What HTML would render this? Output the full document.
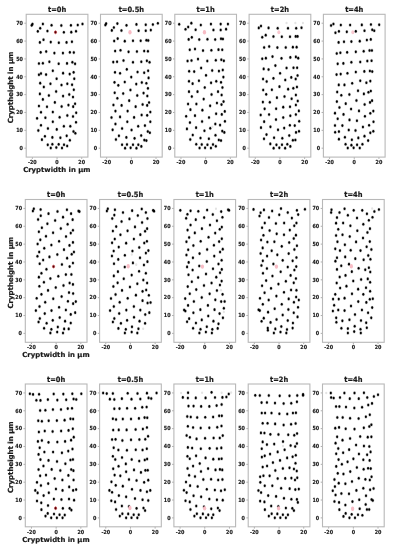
<!DOCTYPE html><html><head><meta charset="utf-8"><style>html,body{margin:0;padding:0;background:#fff;}svg{display:block;}text{font-family:"DejaVu Sans","Liberation Sans",sans-serif;font-weight:bold;fill:#1a1a1a;stroke:#1a1a1a;}.tk{font-size:4.85px;stroke-width:0.14px;}.tt{font-size:6.7px;stroke-width:0.2px;}.al{font-size:6.9px;stroke-width:0.2px;}</style></head><body>
<svg width="393" height="550" viewBox="0 0 393 550">
<rect width="393" height="550" fill="#fff"/>
<defs><g id="d"><ellipse rx="1.55" ry="1.9" fill="#000" fill-opacity="0.22"/><ellipse rx="1.0" ry="1.3" fill="#000"/></g></defs>
<text class="tt" transform="translate(57.05 11.80) scale(1 1.1)" text-anchor="middle">t=0h</text>
<line x1="24.40" y1="148.18" x2="26.20" y2="148.18" stroke="#8a8a8a" stroke-width="0.7"/>
<text class="tk" transform="translate(22.90 149.93) scale(1 1.15)" text-anchor="end">0</text>
<line x1="24.40" y1="130.33" x2="26.20" y2="130.33" stroke="#8a8a8a" stroke-width="0.7"/>
<text class="tk" transform="translate(22.90 132.08) scale(1 1.15)" text-anchor="end">10</text>
<line x1="24.40" y1="112.48" x2="26.20" y2="112.48" stroke="#8a8a8a" stroke-width="0.7"/>
<text class="tk" transform="translate(22.90 114.23) scale(1 1.15)" text-anchor="end">20</text>
<line x1="24.40" y1="94.63" x2="26.20" y2="94.63" stroke="#8a8a8a" stroke-width="0.7"/>
<text class="tk" transform="translate(22.90 96.38) scale(1 1.15)" text-anchor="end">30</text>
<line x1="24.40" y1="76.78" x2="26.20" y2="76.78" stroke="#8a8a8a" stroke-width="0.7"/>
<text class="tk" transform="translate(22.90 78.53) scale(1 1.15)" text-anchor="end">40</text>
<line x1="24.40" y1="58.93" x2="26.20" y2="58.93" stroke="#8a8a8a" stroke-width="0.7"/>
<text class="tk" transform="translate(22.90 60.68) scale(1 1.15)" text-anchor="end">50</text>
<line x1="24.40" y1="41.08" x2="26.20" y2="41.08" stroke="#8a8a8a" stroke-width="0.7"/>
<text class="tk" transform="translate(22.90 42.83) scale(1 1.15)" text-anchor="end">60</text>
<line x1="24.40" y1="23.23" x2="26.20" y2="23.23" stroke="#8a8a8a" stroke-width="0.7"/>
<text class="tk" transform="translate(22.90 24.98) scale(1 1.15)" text-anchor="end">70</text>
<line x1="32.37" y1="157.10" x2="32.37" y2="158.90" stroke="#8a8a8a" stroke-width="0.7"/>
<text class="tk" transform="translate(32.37 164.00) scale(1 1.15)" text-anchor="middle">-20</text>
<line x1="57.05" y1="157.10" x2="57.05" y2="158.90" stroke="#8a8a8a" stroke-width="0.7"/>
<text class="tk" transform="translate(57.05 164.00) scale(1 1.15)" text-anchor="middle">0</text>
<line x1="81.73" y1="157.10" x2="81.73" y2="158.90" stroke="#8a8a8a" stroke-width="0.7"/>
<text class="tk" transform="translate(81.73 164.00) scale(1 1.15)" text-anchor="middle">20</text>
<rect x="26.20" y="14.30" width="61.7" height="142.8" fill="none" stroke="#b8b8b8" stroke-width="1.1"/>
<use href="#d" x="31.68" y="25.36"/>
<use href="#d" x="32.47" y="24.10"/>
<use href="#d" x="42.88" y="23.94"/>
<use href="#d" x="51.56" y="25.20"/>
<use href="#d" x="61.34" y="25.52"/>
<use href="#d" x="70.96" y="25.36"/>
<use href="#d" x="77.75" y="25.04"/>
<use href="#d" x="82.48" y="23.94"/>
<use href="#d" x="40.20" y="28.20"/>
<use href="#d" x="37.83" y="31.35"/>
<use href="#d" x="47.46" y="31.04"/>
<ellipse cx="55.50" cy="32.30" rx="1.1" ry="1.45" fill="#4a0008" stroke="#d03a3a" stroke-width="0.6"/>
<use href="#d" x="63.86" y="32.30"/>
<use href="#d" x="71.28" y="32.14"/>
<use href="#d" x="76.01" y="31.20"/>
<use href="#d" x="39.88" y="42.40"/>
<use href="#d" x="43.51" y="39.72"/>
<use href="#d" x="50.77" y="42.08"/>
<use href="#d" x="58.81" y="42.71"/>
<use href="#d" x="66.54" y="42.40"/>
<use href="#d" x="71.91" y="41.77"/>
<use href="#d" x="40.67" y="52.34"/>
<use href="#d" x="46.19" y="51.55"/>
<use href="#d" x="54.40" y="53.12"/>
<use href="#d" x="62.92" y="53.12"/>
<use href="#d" x="69.86" y="52.34"/>
<use href="#d" x="73.80" y="52.49"/>
<use href="#d" x="38.94" y="63.54"/>
<use href="#d" x="42.88" y="63.22"/>
<use href="#d" x="49.35" y="61.80"/>
<use href="#d" x="58.66" y="63.69"/>
<use href="#d" x="67.02" y="63.38"/>
<use href="#d" x="72.38" y="62.27"/>
<use href="#d" x="75.06" y="63.85"/>
<use href="#d" x="38.94" y="74.74"/>
<use href="#d" x="40.99" y="73.48"/>
<use href="#d" x="46.04" y="74.58"/>
<use href="#d" x="52.82" y="70.79"/>
<use href="#d" x="63.07" y="73.16"/>
<use href="#d" x="69.70" y="74.11"/>
<use href="#d" x="73.64" y="72.37"/>
<use href="#d" x="56.61" y="78.68"/>
<use href="#d" x="74.27" y="78.68"/>
<use href="#d" x="40.20" y="83.16"/>
<use href="#d" x="50.45" y="83.79"/>
<use href="#d" x="61.50" y="85.05"/>
<use href="#d" x="67.33" y="83.79"/>
<use href="#d" x="72.07" y="84.73"/>
<use href="#d" x="43.83" y="86.94"/>
<use href="#d" x="56.13" y="91.52"/>
<use href="#d" x="73.80" y="89.78"/>
<use href="#d" x="39.88" y="93.88"/>
<use href="#d" x="48.88" y="95.46"/>
<use href="#d" x="63.07" y="96.09"/>
<use href="#d" x="69.23" y="94.51"/>
<use href="#d" x="73.01" y="97.04"/>
<use href="#d" x="42.88" y="99.40"/>
<use href="#d" x="54.87" y="102.40"/>
<use href="#d" x="38.94" y="106.03"/>
<use href="#d" x="46.98" y="106.82"/>
<use href="#d" x="61.65" y="106.50"/>
<use href="#d" x="68.44" y="105.08"/>
<use href="#d" x="73.17" y="106.66"/>
<use href="#d" x="75.06" y="103.82"/>
<use href="#d" x="40.99" y="112.18"/>
<use href="#d" x="52.82" y="112.03"/>
<use href="#d" x="76.17" y="112.81"/>
<use href="#d" x="37.04" y="118.34"/>
<use href="#d" x="45.40" y="117.70"/>
<use href="#d" x="59.60" y="117.23"/>
<use href="#d" x="67.33" y="115.50"/>
<use href="#d" x="73.01" y="116.44"/>
<use href="#d" x="52.82" y="121.81"/>
<use href="#d" x="76.01" y="122.28"/>
<use href="#d" x="40.99" y="125.28"/>
<use href="#d" x="47.93" y="128.43"/>
<use href="#d" x="56.76" y="129.38"/>
<use href="#d" x="63.86" y="126.22"/>
<use href="#d" x="70.33" y="126.22"/>
<use href="#d" x="38.31" y="130.48"/>
<use href="#d" x="73.49" y="131.43"/>
<use href="#d" x="75.38" y="133.32"/>
<use href="#d" x="44.93" y="136.32"/>
<use href="#d" x="52.35" y="137.42"/>
<use href="#d" x="60.39" y="137.74"/>
<use href="#d" x="66.70" y="135.85"/>
<use href="#d" x="41.93" y="139.63"/>
<use href="#d" x="69.86" y="140.26"/>
<use href="#d" x="47.77" y="144.84"/>
<use href="#d" x="52.35" y="144.21"/>
<use href="#d" x="58.66" y="144.37"/>
<use href="#d" x="64.02" y="144.68"/>
<use href="#d" x="67.18" y="145.94"/>
<use href="#d" x="50.77" y="147.99"/>
<use href="#d" x="56.29" y="147.52"/>
<use href="#d" x="61.97" y="147.99"/>
<text class="tt" transform="translate(131.35 11.80) scale(1 1.1)" text-anchor="middle">t=0.5h</text>
<line x1="98.70" y1="148.18" x2="100.50" y2="148.18" stroke="#8a8a8a" stroke-width="0.7"/>
<text class="tk" transform="translate(97.20 149.93) scale(1 1.15)" text-anchor="end">0</text>
<line x1="98.70" y1="130.33" x2="100.50" y2="130.33" stroke="#8a8a8a" stroke-width="0.7"/>
<text class="tk" transform="translate(97.20 132.08) scale(1 1.15)" text-anchor="end">10</text>
<line x1="98.70" y1="112.48" x2="100.50" y2="112.48" stroke="#8a8a8a" stroke-width="0.7"/>
<text class="tk" transform="translate(97.20 114.23) scale(1 1.15)" text-anchor="end">20</text>
<line x1="98.70" y1="94.63" x2="100.50" y2="94.63" stroke="#8a8a8a" stroke-width="0.7"/>
<text class="tk" transform="translate(97.20 96.38) scale(1 1.15)" text-anchor="end">30</text>
<line x1="98.70" y1="76.78" x2="100.50" y2="76.78" stroke="#8a8a8a" stroke-width="0.7"/>
<text class="tk" transform="translate(97.20 78.53) scale(1 1.15)" text-anchor="end">40</text>
<line x1="98.70" y1="58.93" x2="100.50" y2="58.93" stroke="#8a8a8a" stroke-width="0.7"/>
<text class="tk" transform="translate(97.20 60.68) scale(1 1.15)" text-anchor="end">50</text>
<line x1="98.70" y1="41.08" x2="100.50" y2="41.08" stroke="#8a8a8a" stroke-width="0.7"/>
<text class="tk" transform="translate(97.20 42.83) scale(1 1.15)" text-anchor="end">60</text>
<line x1="98.70" y1="23.23" x2="100.50" y2="23.23" stroke="#8a8a8a" stroke-width="0.7"/>
<text class="tk" transform="translate(97.20 24.98) scale(1 1.15)" text-anchor="end">70</text>
<line x1="106.67" y1="157.10" x2="106.67" y2="158.90" stroke="#8a8a8a" stroke-width="0.7"/>
<text class="tk" transform="translate(106.67 164.00) scale(1 1.15)" text-anchor="middle">-20</text>
<line x1="131.35" y1="157.10" x2="131.35" y2="158.90" stroke="#8a8a8a" stroke-width="0.7"/>
<text class="tk" transform="translate(131.35 164.00) scale(1 1.15)" text-anchor="middle">0</text>
<line x1="156.03" y1="157.10" x2="156.03" y2="158.90" stroke="#8a8a8a" stroke-width="0.7"/>
<text class="tk" transform="translate(156.03 164.00) scale(1 1.15)" text-anchor="middle">20</text>
<rect x="100.50" y="14.30" width="61.7" height="142.8" fill="none" stroke="#b8b8b8" stroke-width="1.1"/>
<use href="#d" x="105.36" y="25.04"/>
<use href="#d" x="106.15" y="23.62"/>
<use href="#d" x="117.35" y="23.62"/>
<use href="#d" x="126.50" y="25.36"/>
<use href="#d" x="136.44" y="24.41"/>
<use href="#d" x="145.75" y="24.73"/>
<use href="#d" x="152.85" y="24.57"/>
<use href="#d" x="157.90" y="23.31"/>
<use href="#d" x="113.88" y="27.57"/>
<use href="#d" x="111.83" y="30.41"/>
<use href="#d" x="121.46" y="30.56"/>
<ellipse cx="129.97" cy="32.30" rx="1.65" ry="2.2" fill="#f8bcc5"/>
<use href="#d" x="138.65" y="30.72"/>
<use href="#d" x="145.75" y="30.72"/>
<use href="#d" x="150.80" y="30.09"/>
<use href="#d" x="114.20" y="40.98"/>
<use href="#d" x="117.67" y="38.61"/>
<use href="#d" x="124.77" y="41.13"/>
<use href="#d" x="132.97" y="40.82"/>
<use href="#d" x="140.70" y="40.82"/>
<use href="#d" x="146.38" y="40.19"/>
<use href="#d" x="148.27" y="40.50"/>
<use href="#d" x="115.15" y="51.07"/>
<use href="#d" x="120.51" y="50.28"/>
<use href="#d" x="128.55" y="51.86"/>
<use href="#d" x="136.92" y="51.55"/>
<use href="#d" x="144.17" y="51.07"/>
<use href="#d" x="147.96" y="51.23"/>
<use href="#d" x="113.25" y="62.12"/>
<use href="#d" x="117.04" y="61.80"/>
<use href="#d" x="123.51" y="60.54"/>
<use href="#d" x="132.97" y="62.27"/>
<use href="#d" x="141.33" y="61.80"/>
<use href="#d" x="146.85" y="60.85"/>
<use href="#d" x="149.54" y="62.27"/>
<use href="#d" x="114.99" y="72.37"/>
<use href="#d" x="120.04" y="73.32"/>
<use href="#d" x="126.82" y="69.37"/>
<use href="#d" x="137.55" y="72.06"/>
<use href="#d" x="144.17" y="72.69"/>
<use href="#d" x="148.12" y="70.79"/>
<use href="#d" x="131.24" y="77.10"/>
<use href="#d" x="148.59" y="77.89"/>
<use href="#d" x="114.51" y="82.37"/>
<use href="#d" x="124.77" y="82.05"/>
<use href="#d" x="136.28" y="84.10"/>
<use href="#d" x="141.81" y="82.52"/>
<use href="#d" x="146.38" y="83.31"/>
<use href="#d" x="118.30" y="85.36"/>
<use href="#d" x="147.96" y="88.36"/>
<use href="#d" x="130.45" y="89.94"/>
<use href="#d" x="114.67" y="92.78"/>
<use href="#d" x="123.19" y="93.57"/>
<use href="#d" x="137.23" y="95.46"/>
<use href="#d" x="143.54" y="93.09"/>
<use href="#d" x="147.33" y="95.93"/>
<use href="#d" x="117.35" y="98.30"/>
<use href="#d" x="129.19" y="100.67"/>
<use href="#d" x="113.41" y="104.93"/>
<use href="#d" x="121.61" y="105.40"/>
<use href="#d" x="135.65" y="106.66"/>
<use href="#d" x="142.60" y="104.45"/>
<use href="#d" x="147.17" y="105.40"/>
<use href="#d" x="149.06" y="102.56"/>
<use href="#d" x="115.46" y="111.08"/>
<use href="#d" x="127.61" y="111.08"/>
<use href="#d" x="150.33" y="112.03"/>
<use href="#d" x="111.52" y="117.55"/>
<use href="#d" x="120.04" y="116.92"/>
<use href="#d" x="134.08" y="117.39"/>
<use href="#d" x="141.65" y="115.02"/>
<use href="#d" x="147.17" y="115.34"/>
<use href="#d" x="127.29" y="121.81"/>
<use href="#d" x="150.33" y="121.81"/>
<use href="#d" x="115.46" y="124.02"/>
<use href="#d" x="122.09" y="128.43"/>
<use href="#d" x="131.55" y="130.01"/>
<use href="#d" x="138.18" y="126.22"/>
<use href="#d" x="144.96" y="125.59"/>
<use href="#d" x="112.62" y="129.85"/>
<use href="#d" x="147.80" y="131.43"/>
<use href="#d" x="149.85" y="132.69"/>
<use href="#d" x="118.93" y="135.85"/>
<use href="#d" x="126.35" y="137.42"/>
<use href="#d" x="134.55" y="138.37"/>
<use href="#d" x="141.18" y="135.53"/>
<use href="#d" x="115.93" y="139.48"/>
<use href="#d" x="144.33" y="140.11"/>
<use href="#d" x="146.38" y="140.58"/>
<use href="#d" x="122.09" y="144.68"/>
<use href="#d" x="126.98" y="144.52"/>
<use href="#d" x="132.97" y="144.68"/>
<use href="#d" x="138.34" y="144.68"/>
<use href="#d" x="141.33" y="146.42"/>
<use href="#d" x="125.08" y="148.15"/>
<use href="#d" x="130.61" y="147.84"/>
<use href="#d" x="136.44" y="148.15"/>
<text class="tt" transform="translate(205.65 11.80) scale(1 1.1)" text-anchor="middle">t=1h</text>
<line x1="173.00" y1="148.18" x2="174.80" y2="148.18" stroke="#8a8a8a" stroke-width="0.7"/>
<text class="tk" transform="translate(171.50 149.93) scale(1 1.15)" text-anchor="end">0</text>
<line x1="173.00" y1="130.33" x2="174.80" y2="130.33" stroke="#8a8a8a" stroke-width="0.7"/>
<text class="tk" transform="translate(171.50 132.08) scale(1 1.15)" text-anchor="end">10</text>
<line x1="173.00" y1="112.48" x2="174.80" y2="112.48" stroke="#8a8a8a" stroke-width="0.7"/>
<text class="tk" transform="translate(171.50 114.23) scale(1 1.15)" text-anchor="end">20</text>
<line x1="173.00" y1="94.63" x2="174.80" y2="94.63" stroke="#8a8a8a" stroke-width="0.7"/>
<text class="tk" transform="translate(171.50 96.38) scale(1 1.15)" text-anchor="end">30</text>
<line x1="173.00" y1="76.78" x2="174.80" y2="76.78" stroke="#8a8a8a" stroke-width="0.7"/>
<text class="tk" transform="translate(171.50 78.53) scale(1 1.15)" text-anchor="end">40</text>
<line x1="173.00" y1="58.93" x2="174.80" y2="58.93" stroke="#8a8a8a" stroke-width="0.7"/>
<text class="tk" transform="translate(171.50 60.68) scale(1 1.15)" text-anchor="end">50</text>
<line x1="173.00" y1="41.08" x2="174.80" y2="41.08" stroke="#8a8a8a" stroke-width="0.7"/>
<text class="tk" transform="translate(171.50 42.83) scale(1 1.15)" text-anchor="end">60</text>
<line x1="173.00" y1="23.23" x2="174.80" y2="23.23" stroke="#8a8a8a" stroke-width="0.7"/>
<text class="tk" transform="translate(171.50 24.98) scale(1 1.15)" text-anchor="end">70</text>
<line x1="180.97" y1="157.10" x2="180.97" y2="158.90" stroke="#8a8a8a" stroke-width="0.7"/>
<text class="tk" transform="translate(180.97 164.00) scale(1 1.15)" text-anchor="middle">-20</text>
<line x1="205.65" y1="157.10" x2="205.65" y2="158.90" stroke="#8a8a8a" stroke-width="0.7"/>
<text class="tk" transform="translate(205.65 164.00) scale(1 1.15)" text-anchor="middle">0</text>
<line x1="230.33" y1="157.10" x2="230.33" y2="158.90" stroke="#8a8a8a" stroke-width="0.7"/>
<text class="tk" transform="translate(230.33 164.00) scale(1 1.15)" text-anchor="middle">20</text>
<rect x="174.80" y="14.30" width="61.7" height="142.8" fill="none" stroke="#b8b8b8" stroke-width="1.1"/>
<use href="#d" x="179.21" y="24.25"/>
<use href="#d" x="191.35" y="23.15"/>
<use href="#d" x="200.82" y="25.04"/>
<use href="#d" x="210.92" y="24.10"/>
<use href="#d" x="220.70" y="24.10"/>
<use href="#d" x="227.95" y="24.10"/>
<use href="#d" x="185.52" y="29.30"/>
<use href="#d" x="188.20" y="26.94"/>
<use href="#d" x="195.61" y="29.78"/>
<ellipse cx="204.45" cy="32.30" rx="1.65" ry="2.2" fill="#f8bcc5"/>
<use href="#d" x="213.44" y="29.93"/>
<use href="#d" x="220.70" y="29.93"/>
<use href="#d" x="226.06" y="29.15"/>
<use href="#d" x="188.67" y="39.40"/>
<use href="#d" x="191.83" y="37.35"/>
<use href="#d" x="199.24" y="39.56"/>
<use href="#d" x="207.45" y="39.24"/>
<use href="#d" x="215.18" y="39.56"/>
<use href="#d" x="221.01" y="38.77"/>
<use href="#d" x="222.91" y="38.93"/>
<use href="#d" x="189.78" y="49.81"/>
<use href="#d" x="194.98" y="49.02"/>
<use href="#d" x="203.03" y="50.60"/>
<use href="#d" x="211.39" y="50.28"/>
<use href="#d" x="218.49" y="49.65"/>
<use href="#d" x="222.27" y="49.81"/>
<use href="#d" x="187.57" y="61.01"/>
<use href="#d" x="191.51" y="60.54"/>
<use href="#d" x="197.98" y="59.12"/>
<use href="#d" x="207.29" y="61.01"/>
<use href="#d" x="215.81" y="60.22"/>
<use href="#d" x="221.33" y="59.75"/>
<use href="#d" x="223.85" y="60.85"/>
<use href="#d" x="189.15" y="71.27"/>
<use href="#d" x="194.19" y="71.58"/>
<use href="#d" x="201.13" y="67.95"/>
<use href="#d" x="212.18" y="70.48"/>
<use href="#d" x="218.96" y="71.11"/>
<use href="#d" x="222.75" y="70.01"/>
<use href="#d" x="206.03" y="75.37"/>
<use href="#d" x="223.38" y="77.10"/>
<use href="#d" x="188.99" y="81.26"/>
<use href="#d" x="198.93" y="80.79"/>
<use href="#d" x="211.07" y="82.84"/>
<use href="#d" x="216.28" y="81.26"/>
<use href="#d" x="221.01" y="82.37"/>
<use href="#d" x="192.62" y="83.63"/>
<use href="#d" x="222.43" y="87.57"/>
<use href="#d" x="204.76" y="87.57"/>
<use href="#d" x="188.99" y="91.67"/>
<use href="#d" x="197.51" y="91.67"/>
<use href="#d" x="211.55" y="94.51"/>
<use href="#d" x="218.02" y="91.67"/>
<use href="#d" x="221.64" y="94.99"/>
<use href="#d" x="191.83" y="96.56"/>
<use href="#d" x="203.66" y="99.09"/>
<use href="#d" x="188.04" y="103.98"/>
<use href="#d" x="196.40" y="103.98"/>
<use href="#d" x="210.13" y="105.87"/>
<use href="#d" x="216.91" y="103.03"/>
<use href="#d" x="221.49" y="104.61"/>
<use href="#d" x="223.54" y="101.61"/>
<use href="#d" x="190.41" y="109.66"/>
<use href="#d" x="202.40" y="110.13"/>
<use href="#d" x="224.80" y="111.39"/>
<use href="#d" x="186.15" y="116.28"/>
<use href="#d" x="194.98" y="115.65"/>
<use href="#d" x="209.02" y="117.55"/>
<use href="#d" x="216.12" y="113.76"/>
<use href="#d" x="221.80" y="114.39"/>
<use href="#d" x="202.08" y="121.49"/>
<use href="#d" x="224.96" y="121.33"/>
<use href="#d" x="189.93" y="122.60"/>
<use href="#d" x="196.09" y="127.64"/>
<use href="#d" x="204.45" y="130.80"/>
<use href="#d" x="210.28" y="128.27"/>
<use href="#d" x="215.33" y="124.02"/>
<use href="#d" x="220.07" y="125.12"/>
<use href="#d" x="186.94" y="128.91"/>
<use href="#d" x="222.27" y="131.11"/>
<use href="#d" x="224.33" y="132.38"/>
<use href="#d" x="192.77" y="135.06"/>
<use href="#d" x="200.50" y="138.06"/>
<use href="#d" x="208.87" y="138.69"/>
<use href="#d" x="215.49" y="135.22"/>
<use href="#d" x="190.25" y="139.48"/>
<use href="#d" x="218.80" y="139.95"/>
<use href="#d" x="221.01" y="140.58"/>
<use href="#d" x="196.24" y="144.21"/>
<use href="#d" x="201.77" y="144.52"/>
<use href="#d" x="207.45" y="144.68"/>
<use href="#d" x="212.97" y="144.52"/>
<use href="#d" x="215.81" y="146.26"/>
<use href="#d" x="199.56" y="147.99"/>
<use href="#d" x="205.08" y="147.84"/>
<use href="#d" x="210.92" y="147.99"/>
<ellipse cx="212.34" cy="126.70" rx="1.1" ry="1.3" fill="#e4e4e4"/>
<text class="tt" transform="translate(279.95 11.80) scale(1 1.1)" text-anchor="middle">t=2h</text>
<line x1="247.30" y1="148.18" x2="249.10" y2="148.18" stroke="#8a8a8a" stroke-width="0.7"/>
<text class="tk" transform="translate(245.80 149.93) scale(1 1.15)" text-anchor="end">0</text>
<line x1="247.30" y1="130.33" x2="249.10" y2="130.33" stroke="#8a8a8a" stroke-width="0.7"/>
<text class="tk" transform="translate(245.80 132.08) scale(1 1.15)" text-anchor="end">10</text>
<line x1="247.30" y1="112.48" x2="249.10" y2="112.48" stroke="#8a8a8a" stroke-width="0.7"/>
<text class="tk" transform="translate(245.80 114.23) scale(1 1.15)" text-anchor="end">20</text>
<line x1="247.30" y1="94.63" x2="249.10" y2="94.63" stroke="#8a8a8a" stroke-width="0.7"/>
<text class="tk" transform="translate(245.80 96.38) scale(1 1.15)" text-anchor="end">30</text>
<line x1="247.30" y1="76.78" x2="249.10" y2="76.78" stroke="#8a8a8a" stroke-width="0.7"/>
<text class="tk" transform="translate(245.80 78.53) scale(1 1.15)" text-anchor="end">40</text>
<line x1="247.30" y1="58.93" x2="249.10" y2="58.93" stroke="#8a8a8a" stroke-width="0.7"/>
<text class="tk" transform="translate(245.80 60.68) scale(1 1.15)" text-anchor="end">50</text>
<line x1="247.30" y1="41.08" x2="249.10" y2="41.08" stroke="#8a8a8a" stroke-width="0.7"/>
<text class="tk" transform="translate(245.80 42.83) scale(1 1.15)" text-anchor="end">60</text>
<line x1="247.30" y1="23.23" x2="249.10" y2="23.23" stroke="#8a8a8a" stroke-width="0.7"/>
<text class="tk" transform="translate(245.80 24.98) scale(1 1.15)" text-anchor="end">70</text>
<line x1="255.27" y1="157.10" x2="255.27" y2="158.90" stroke="#8a8a8a" stroke-width="0.7"/>
<text class="tk" transform="translate(255.27 164.00) scale(1 1.15)" text-anchor="middle">-20</text>
<line x1="279.95" y1="157.10" x2="279.95" y2="158.90" stroke="#8a8a8a" stroke-width="0.7"/>
<text class="tk" transform="translate(279.95 164.00) scale(1 1.15)" text-anchor="middle">0</text>
<line x1="304.63" y1="157.10" x2="304.63" y2="158.90" stroke="#8a8a8a" stroke-width="0.7"/>
<text class="tk" transform="translate(304.63 164.00) scale(1 1.15)" text-anchor="middle">20</text>
<rect x="249.10" y="14.30" width="61.7" height="142.8" fill="none" stroke="#b8b8b8" stroke-width="1.1"/>
<ellipse cx="286.55" cy="22.99" rx="1.1" ry="1.3" fill="#e4e4e4"/>
<ellipse cx="295.38" cy="22.99" rx="1.1" ry="1.3" fill="#e4e4e4"/>
<ellipse cx="302.95" cy="22.99" rx="1.1" ry="1.3" fill="#e4e4e4"/>
<use href="#d" x="258.78" y="27.88"/>
<use href="#d" x="260.99" y="25.99"/>
<use href="#d" x="268.56" y="27.88"/>
<use href="#d" x="277.71" y="28.20"/>
<use href="#d" x="287.97" y="28.20"/>
<use href="#d" x="296.17" y="28.20"/>
<use href="#d" x="301.53" y="27.73"/>
<ellipse cx="278.82" cy="32.14" rx="1.5" ry="2.0" fill="#fac8d0"/>
<use href="#d" x="262.25" y="37.19"/>
<use href="#d" x="265.72" y="35.14"/>
<use href="#d" x="273.45" y="36.56"/>
<use href="#d" x="281.81" y="36.72"/>
<use href="#d" x="290.02" y="36.72"/>
<use href="#d" x="295.70" y="36.40"/>
<use href="#d" x="297.59" y="36.40"/>
<use href="#d" x="264.15" y="47.45"/>
<use href="#d" x="269.19" y="46.50"/>
<use href="#d" x="277.40" y="47.60"/>
<use href="#d" x="285.76" y="47.45"/>
<use href="#d" x="292.86" y="47.13"/>
<use href="#d" x="296.64" y="47.13"/>
<use href="#d" x="262.25" y="58.80"/>
<use href="#d" x="265.88" y="58.17"/>
<use href="#d" x="272.51" y="56.60"/>
<use href="#d" x="281.50" y="58.33"/>
<use href="#d" x="290.33" y="57.38"/>
<use href="#d" x="295.85" y="56.91"/>
<use href="#d" x="298.22" y="58.17"/>
<use href="#d" x="263.67" y="68.90"/>
<use href="#d" x="268.56" y="69.53"/>
<use href="#d" x="275.35" y="65.59"/>
<use href="#d" x="286.55" y="67.95"/>
<use href="#d" x="293.49" y="67.80"/>
<use href="#d" x="297.12" y="67.80"/>
<use href="#d" x="280.08" y="73.32"/>
<use href="#d" x="297.59" y="75.53"/>
<use href="#d" x="263.04" y="79.00"/>
<use href="#d" x="266.67" y="81.52"/>
<use href="#d" x="273.45" y="78.37"/>
<use href="#d" x="285.28" y="79.94"/>
<use href="#d" x="291.28" y="77.42"/>
<use href="#d" x="295.70" y="79.00"/>
<use href="#d" x="279.45" y="86.63"/>
<use href="#d" x="263.20" y="89.94"/>
<use href="#d" x="271.88" y="89.78"/>
<use href="#d" x="288.12" y="89.15"/>
<use href="#d" x="293.33" y="88.20"/>
<use href="#d" x="296.96" y="86.94"/>
<use href="#d" x="266.20" y="94.36"/>
<use href="#d" x="276.92" y="97.67"/>
<use href="#d" x="284.50" y="96.56"/>
<use href="#d" x="291.60" y="98.77"/>
<use href="#d" x="295.85" y="94.99"/>
<use href="#d" x="262.88" y="102.09"/>
<use href="#d" x="269.82" y="102.24"/>
<use href="#d" x="297.75" y="100.98"/>
<use href="#d" x="264.62" y="108.87"/>
<use href="#d" x="276.13" y="108.71"/>
<use href="#d" x="283.23" y="107.13"/>
<use href="#d" x="290.02" y="106.82"/>
<use href="#d" x="295.85" y="104.93"/>
<use href="#d" x="298.85" y="110.92"/>
<use href="#d" x="260.67" y="115.02"/>
<use href="#d" x="269.04" y="114.55"/>
<use href="#d" x="275.98" y="119.60"/>
<use href="#d" x="283.23" y="117.55"/>
<use href="#d" x="290.33" y="115.81"/>
<use href="#d" x="295.85" y="114.55"/>
<use href="#d" x="264.15" y="121.65"/>
<use href="#d" x="299.17" y="121.18"/>
<use href="#d" x="260.99" y="127.64"/>
<use href="#d" x="270.46" y="126.85"/>
<use href="#d" x="278.03" y="129.85"/>
<use href="#d" x="284.18" y="128.12"/>
<use href="#d" x="289.86" y="125.28"/>
<use href="#d" x="294.75" y="125.59"/>
<use href="#d" x="296.01" y="132.38"/>
<use href="#d" x="299.01" y="131.27"/>
<use href="#d" x="266.51" y="134.59"/>
<use href="#d" x="263.99" y="138.84"/>
<use href="#d" x="274.08" y="137.74"/>
<use href="#d" x="282.29" y="138.21"/>
<use href="#d" x="289.23" y="135.53"/>
<use href="#d" x="292.86" y="140.26"/>
<use href="#d" x="295.38" y="139.95"/>
<use href="#d" x="270.30" y="143.89"/>
<use href="#d" x="276.45" y="144.84"/>
<use href="#d" x="281.97" y="144.68"/>
<use href="#d" x="287.34" y="144.21"/>
<use href="#d" x="290.33" y="146.42"/>
<use href="#d" x="273.61" y="148.15"/>
<use href="#d" x="279.29" y="147.84"/>
<use href="#d" x="285.13" y="148.15"/>
<text class="tt" transform="translate(354.25 11.80) scale(1 1.1)" text-anchor="middle">t=4h</text>
<line x1="321.60" y1="148.18" x2="323.40" y2="148.18" stroke="#8a8a8a" stroke-width="0.7"/>
<text class="tk" transform="translate(320.10 149.93) scale(1 1.15)" text-anchor="end">0</text>
<line x1="321.60" y1="130.33" x2="323.40" y2="130.33" stroke="#8a8a8a" stroke-width="0.7"/>
<text class="tk" transform="translate(320.10 132.08) scale(1 1.15)" text-anchor="end">10</text>
<line x1="321.60" y1="112.48" x2="323.40" y2="112.48" stroke="#8a8a8a" stroke-width="0.7"/>
<text class="tk" transform="translate(320.10 114.23) scale(1 1.15)" text-anchor="end">20</text>
<line x1="321.60" y1="94.63" x2="323.40" y2="94.63" stroke="#8a8a8a" stroke-width="0.7"/>
<text class="tk" transform="translate(320.10 96.38) scale(1 1.15)" text-anchor="end">30</text>
<line x1="321.60" y1="76.78" x2="323.40" y2="76.78" stroke="#8a8a8a" stroke-width="0.7"/>
<text class="tk" transform="translate(320.10 78.53) scale(1 1.15)" text-anchor="end">40</text>
<line x1="321.60" y1="58.93" x2="323.40" y2="58.93" stroke="#8a8a8a" stroke-width="0.7"/>
<text class="tk" transform="translate(320.10 60.68) scale(1 1.15)" text-anchor="end">50</text>
<line x1="321.60" y1="41.08" x2="323.40" y2="41.08" stroke="#8a8a8a" stroke-width="0.7"/>
<text class="tk" transform="translate(320.10 42.83) scale(1 1.15)" text-anchor="end">60</text>
<line x1="321.60" y1="23.23" x2="323.40" y2="23.23" stroke="#8a8a8a" stroke-width="0.7"/>
<text class="tk" transform="translate(320.10 24.98) scale(1 1.15)" text-anchor="end">70</text>
<line x1="329.57" y1="157.10" x2="329.57" y2="158.90" stroke="#8a8a8a" stroke-width="0.7"/>
<text class="tk" transform="translate(329.57 164.00) scale(1 1.15)" text-anchor="middle">-20</text>
<line x1="354.25" y1="157.10" x2="354.25" y2="158.90" stroke="#8a8a8a" stroke-width="0.7"/>
<text class="tk" transform="translate(354.25 164.00) scale(1 1.15)" text-anchor="middle">0</text>
<line x1="378.93" y1="157.10" x2="378.93" y2="158.90" stroke="#8a8a8a" stroke-width="0.7"/>
<text class="tk" transform="translate(378.93 164.00) scale(1 1.15)" text-anchor="middle">20</text>
<rect x="323.40" y="14.30" width="61.7" height="142.8" fill="none" stroke="#b8b8b8" stroke-width="1.1"/>
<use href="#d" x="331.05" y="25.52"/>
<use href="#d" x="333.41" y="23.94"/>
<use href="#d" x="340.83" y="25.04"/>
<use href="#d" x="350.13" y="25.04"/>
<use href="#d" x="361.81" y="24.89"/>
<use href="#d" x="370.96" y="24.57"/>
<use href="#d" x="379.16" y="24.73"/>
<use href="#d" x="335.46" y="32.77"/>
<use href="#d" x="338.93" y="31.35"/>
<use href="#d" x="346.82" y="31.83"/>
<ellipse cx="352.82" cy="32.14" rx="1.5" ry="2.0" fill="#fac8d0"/>
<use href="#d" x="355.81" y="31.35"/>
<use href="#d" x="364.49" y="30.72"/>
<use href="#d" x="372.22" y="29.78"/>
<use href="#d" x="374.27" y="30.72"/>
<use href="#d" x="338.62" y="42.40"/>
<use href="#d" x="343.98" y="41.77"/>
<use href="#d" x="351.40" y="41.61"/>
<use href="#d" x="359.76" y="41.13"/>
<use href="#d" x="366.86" y="40.03"/>
<use href="#d" x="370.80" y="39.40"/>
<use href="#d" x="336.73" y="53.44"/>
<use href="#d" x="340.35" y="52.81"/>
<use href="#d" x="347.14" y="52.34"/>
<use href="#d" x="355.81" y="51.86"/>
<use href="#d" x="363.70" y="51.23"/>
<use href="#d" x="369.54" y="50.44"/>
<use href="#d" x="371.91" y="50.44"/>
<use href="#d" x="337.67" y="63.85"/>
<use href="#d" x="343.35" y="63.38"/>
<use href="#d" x="351.40" y="62.27"/>
<use href="#d" x="360.23" y="61.96"/>
<use href="#d" x="367.33" y="61.01"/>
<use href="#d" x="371.59" y="60.70"/>
<use href="#d" x="336.57" y="74.58"/>
<use href="#d" x="340.67" y="74.11"/>
<use href="#d" x="347.45" y="73.32"/>
<use href="#d" x="355.81" y="72.06"/>
<use href="#d" x="364.33" y="71.42"/>
<use href="#d" x="369.85" y="70.95"/>
<use href="#d" x="372.22" y="71.58"/>
<use href="#d" x="338.78" y="84.89"/>
<use href="#d" x="344.46" y="84.89"/>
<use href="#d" x="352.19" y="83.31"/>
<use href="#d" x="360.23" y="80.79"/>
<use href="#d" x="366.38" y="82.68"/>
<use href="#d" x="370.33" y="81.10"/>
<use href="#d" x="337.20" y="91.99"/>
<use href="#d" x="341.30" y="95.30"/>
<use href="#d" x="349.35" y="94.51"/>
<use href="#d" x="358.02" y="90.73"/>
<use href="#d" x="363.86" y="93.88"/>
<use href="#d" x="368.44" y="92.31"/>
<use href="#d" x="370.80" y="91.04"/>
<use href="#d" x="336.88" y="101.61"/>
<use href="#d" x="345.72" y="103.66"/>
<use href="#d" x="356.45" y="100.51"/>
<use href="#d" x="364.65" y="104.45"/>
<use href="#d" x="370.01" y="102.40"/>
<use href="#d" x="372.06" y="100.67"/>
<use href="#d" x="339.41" y="107.45"/>
<use href="#d" x="351.08" y="109.03"/>
<use href="#d" x="358.97" y="110.92"/>
<use href="#d" x="334.99" y="113.13"/>
<use href="#d" x="343.51" y="114.39"/>
<use href="#d" x="370.33" y="113.29"/>
<use href="#d" x="373.33" y="111.08"/>
<use href="#d" x="337.67" y="118.81"/>
<use href="#d" x="349.50" y="119.91"/>
<use href="#d" x="356.92" y="120.70"/>
<use href="#d" x="364.96" y="116.28"/>
<use href="#d" x="334.99" y="125.44"/>
<use href="#d" x="342.40" y="125.59"/>
<use href="#d" x="362.91" y="127.01"/>
<use href="#d" x="369.07" y="125.28"/>
<use href="#d" x="373.48" y="121.81"/>
<use href="#d" x="335.15" y="132.22"/>
<use href="#d" x="338.93" y="131.59"/>
<use href="#d" x="348.72" y="130.01"/>
<use href="#d" x="355.50" y="130.48"/>
<use href="#d" x="370.33" y="132.85"/>
<use href="#d" x="373.33" y="131.27"/>
<use href="#d" x="338.93" y="139.16"/>
<use href="#d" x="344.93" y="137.27"/>
<use href="#d" x="351.87" y="139.79"/>
<use href="#d" x="358.34" y="137.90"/>
<use href="#d" x="364.49" y="136.16"/>
<use href="#d" x="368.12" y="140.58"/>
<use href="#d" x="345.56" y="144.21"/>
<use href="#d" x="351.40" y="145.16"/>
<use href="#d" x="357.08" y="144.84"/>
<use href="#d" x="362.44" y="144.21"/>
<use href="#d" x="347.77" y="147.99"/>
<use href="#d" x="353.61" y="147.84"/>
<use href="#d" x="359.76" y="147.99"/>
<text class="al" x="56.85" y="172.20" text-anchor="middle">Cryptwidth in µm</text>
<text class="al" style="font-size:7px" transform="translate(12.6 87.50) rotate(-90)" x="0" y="0" text-anchor="middle">Cryptheight in µm</text>
<text class="tt" transform="translate(56.15 197.00) scale(1 1.1)" text-anchor="middle">t=0h</text>
<line x1="23.50" y1="333.38" x2="25.30" y2="333.38" stroke="#8a8a8a" stroke-width="0.7"/>
<text class="tk" transform="translate(22.00 335.12) scale(1 1.15)" text-anchor="end">0</text>
<line x1="23.50" y1="315.52" x2="25.30" y2="315.52" stroke="#8a8a8a" stroke-width="0.7"/>
<text class="tk" transform="translate(22.00 317.27) scale(1 1.15)" text-anchor="end">10</text>
<line x1="23.50" y1="297.68" x2="25.30" y2="297.68" stroke="#8a8a8a" stroke-width="0.7"/>
<text class="tk" transform="translate(22.00 299.43) scale(1 1.15)" text-anchor="end">20</text>
<line x1="23.50" y1="279.83" x2="25.30" y2="279.83" stroke="#8a8a8a" stroke-width="0.7"/>
<text class="tk" transform="translate(22.00 281.58) scale(1 1.15)" text-anchor="end">30</text>
<line x1="23.50" y1="261.98" x2="25.30" y2="261.98" stroke="#8a8a8a" stroke-width="0.7"/>
<text class="tk" transform="translate(22.00 263.73) scale(1 1.15)" text-anchor="end">40</text>
<line x1="23.50" y1="244.12" x2="25.30" y2="244.12" stroke="#8a8a8a" stroke-width="0.7"/>
<text class="tk" transform="translate(22.00 245.88) scale(1 1.15)" text-anchor="end">50</text>
<line x1="23.50" y1="226.28" x2="25.30" y2="226.28" stroke="#8a8a8a" stroke-width="0.7"/>
<text class="tk" transform="translate(22.00 228.03) scale(1 1.15)" text-anchor="end">60</text>
<line x1="23.50" y1="208.43" x2="25.30" y2="208.43" stroke="#8a8a8a" stroke-width="0.7"/>
<text class="tk" transform="translate(22.00 210.18) scale(1 1.15)" text-anchor="end">70</text>
<line x1="31.47" y1="342.30" x2="31.47" y2="344.10" stroke="#8a8a8a" stroke-width="0.7"/>
<text class="tk" transform="translate(31.47 349.20) scale(1 1.15)" text-anchor="middle">-20</text>
<line x1="56.15" y1="342.30" x2="56.15" y2="344.10" stroke="#8a8a8a" stroke-width="0.7"/>
<text class="tk" transform="translate(56.15 349.20) scale(1 1.15)" text-anchor="middle">0</text>
<line x1="80.83" y1="342.30" x2="80.83" y2="344.10" stroke="#8a8a8a" stroke-width="0.7"/>
<text class="tk" transform="translate(80.83 349.20) scale(1 1.15)" text-anchor="middle">20</text>
<rect x="25.30" y="199.50" width="61.7" height="142.8" fill="none" stroke="#b8b8b8" stroke-width="1.1"/>
<use href="#d" x="32.89" y="210.99"/>
<use href="#d" x="33.83" y="208.78"/>
<use href="#d" x="40.62" y="209.57"/>
<use href="#d" x="48.51" y="213.67"/>
<use href="#d" x="57.50" y="211.46"/>
<use href="#d" x="66.96" y="209.73"/>
<use href="#d" x="71.07" y="213.67"/>
<use href="#d" x="78.48" y="210.99"/>
<use href="#d" x="79.43" y="211.62"/>
<use href="#d" x="40.78" y="215.72"/>
<use href="#d" x="38.09" y="219.51"/>
<use href="#d" x="55.13" y="220.46"/>
<use href="#d" x="63.02" y="217.14"/>
<use href="#d" x="72.64" y="219.67"/>
<use href="#d" x="47.40" y="223.77"/>
<use href="#d" x="67.60" y="224.24"/>
<use href="#d" x="41.88" y="227.71"/>
<use href="#d" x="60.81" y="228.50"/>
<use href="#d" x="38.88" y="231.81"/>
<use href="#d" x="53.08" y="232.76"/>
<use href="#d" x="70.75" y="233.08"/>
<use href="#d" x="72.96" y="230.24"/>
<use href="#d" x="45.98" y="236.23"/>
<use href="#d" x="66.02" y="236.55"/>
<use href="#d" x="40.30" y="239.86"/>
<use href="#d" x="59.08" y="241.28"/>
<use href="#d" x="72.96" y="242.38"/>
<use href="#d" x="37.62" y="243.96"/>
<use href="#d" x="51.35" y="245.07"/>
<use href="#d" x="69.49" y="245.38"/>
<use href="#d" x="44.25" y="248.22"/>
<use href="#d" x="63.97" y="249.64"/>
<use href="#d" x="39.20" y="252.01"/>
<use href="#d" x="73.91" y="252.01"/>
<use href="#d" x="71.70" y="254.22"/>
<use href="#d" x="37.46" y="256.27"/>
<use href="#d" x="57.34" y="254.53"/>
<use href="#d" x="49.45" y="256.90"/>
<use href="#d" x="43.14" y="260.05"/>
<use href="#d" x="67.12" y="258.16"/>
<use href="#d" x="39.67" y="263.68"/>
<use href="#d" x="61.92" y="264.47"/>
<use href="#d" x="72.96" y="263.05"/>
<ellipse cx="53.55" cy="266.58" rx="1.1" ry="1.45" fill="#4a0008" stroke="#d03a3a" stroke-width="0.6"/>
<use href="#d" x="69.65" y="266.58"/>
<use href="#d" x="46.46" y="269.26"/>
<use href="#d" x="41.41" y="273.20"/>
<use href="#d" x="38.88" y="277.15"/>
<use href="#d" x="50.40" y="278.57"/>
<use href="#d" x="58.29" y="276.20"/>
<use href="#d" x="65.86" y="274.62"/>
<use href="#d" x="71.38" y="274.47"/>
<use href="#d" x="43.93" y="282.20"/>
<use href="#d" x="39.36" y="286.30"/>
<use href="#d" x="55.76" y="287.56"/>
<use href="#d" x="63.49" y="285.51"/>
<use href="#d" x="69.65" y="282.98"/>
<use href="#d" x="72.96" y="284.40"/>
<use href="#d" x="48.03" y="290.40"/>
<use href="#d" x="41.41" y="294.34"/>
<use href="#d" x="69.02" y="292.61"/>
<use href="#d" x="73.12" y="293.55"/>
<use href="#d" x="36.67" y="298.29"/>
<use href="#d" x="53.24" y="298.76"/>
<use href="#d" x="61.60" y="296.55"/>
<use href="#d" x="45.19" y="302.23"/>
<use href="#d" x="67.91" y="301.28"/>
<use href="#d" x="73.12" y="303.65"/>
<use href="#d" x="75.80" y="301.60"/>
<use href="#d" x="39.51" y="306.49"/>
<use href="#d" x="59.08" y="307.28"/>
<use href="#d" x="35.89" y="310.59"/>
<use href="#d" x="51.50" y="310.59"/>
<use href="#d" x="65.86" y="309.96"/>
<use href="#d" x="44.72" y="313.59"/>
<use href="#d" x="70.75" y="314.38"/>
<use href="#d" x="75.17" y="312.64"/>
<use href="#d" x="39.83" y="318.48"/>
<use href="#d" x="59.71" y="317.53"/>
<use href="#d" x="38.57" y="321.95"/>
<use href="#d" x="46.61" y="323.21"/>
<use href="#d" x="52.77" y="320.37"/>
<use href="#d" x="65.07" y="321.16"/>
<use href="#d" x="70.75" y="323.06"/>
<use href="#d" x="44.09" y="328.26"/>
<use href="#d" x="51.35" y="329.37"/>
<use href="#d" x="57.81" y="327.00"/>
<use href="#d" x="64.12" y="328.89"/>
<use href="#d" x="68.70" y="328.89"/>
<use href="#d" x="50.40" y="332.99"/>
<use href="#d" x="57.18" y="332.05"/>
<use href="#d" x="63.02" y="332.99"/>
<text class="tt" transform="translate(130.45 197.00) scale(1 1.1)" text-anchor="middle">t=0.5h</text>
<line x1="97.80" y1="333.38" x2="99.60" y2="333.38" stroke="#8a8a8a" stroke-width="0.7"/>
<text class="tk" transform="translate(96.30 335.12) scale(1 1.15)" text-anchor="end">0</text>
<line x1="97.80" y1="315.52" x2="99.60" y2="315.52" stroke="#8a8a8a" stroke-width="0.7"/>
<text class="tk" transform="translate(96.30 317.27) scale(1 1.15)" text-anchor="end">10</text>
<line x1="97.80" y1="297.68" x2="99.60" y2="297.68" stroke="#8a8a8a" stroke-width="0.7"/>
<text class="tk" transform="translate(96.30 299.43) scale(1 1.15)" text-anchor="end">20</text>
<line x1="97.80" y1="279.83" x2="99.60" y2="279.83" stroke="#8a8a8a" stroke-width="0.7"/>
<text class="tk" transform="translate(96.30 281.58) scale(1 1.15)" text-anchor="end">30</text>
<line x1="97.80" y1="261.98" x2="99.60" y2="261.98" stroke="#8a8a8a" stroke-width="0.7"/>
<text class="tk" transform="translate(96.30 263.73) scale(1 1.15)" text-anchor="end">40</text>
<line x1="97.80" y1="244.12" x2="99.60" y2="244.12" stroke="#8a8a8a" stroke-width="0.7"/>
<text class="tk" transform="translate(96.30 245.88) scale(1 1.15)" text-anchor="end">50</text>
<line x1="97.80" y1="226.28" x2="99.60" y2="226.28" stroke="#8a8a8a" stroke-width="0.7"/>
<text class="tk" transform="translate(96.30 228.03) scale(1 1.15)" text-anchor="end">60</text>
<line x1="97.80" y1="208.43" x2="99.60" y2="208.43" stroke="#8a8a8a" stroke-width="0.7"/>
<text class="tk" transform="translate(96.30 210.18) scale(1 1.15)" text-anchor="end">70</text>
<line x1="105.77" y1="342.30" x2="105.77" y2="344.10" stroke="#8a8a8a" stroke-width="0.7"/>
<text class="tk" transform="translate(105.77 349.20) scale(1 1.15)" text-anchor="middle">-20</text>
<line x1="130.45" y1="342.30" x2="130.45" y2="344.10" stroke="#8a8a8a" stroke-width="0.7"/>
<text class="tk" transform="translate(130.45 349.20) scale(1 1.15)" text-anchor="middle">0</text>
<line x1="155.13" y1="342.30" x2="155.13" y2="344.10" stroke="#8a8a8a" stroke-width="0.7"/>
<text class="tk" transform="translate(155.13 349.20) scale(1 1.15)" text-anchor="middle">20</text>
<rect x="99.60" y="199.50" width="61.7" height="142.8" fill="none" stroke="#b8b8b8" stroke-width="1.1"/>
<use href="#d" x="106.89" y="210.99"/>
<use href="#d" x="107.83" y="208.78"/>
<use href="#d" x="114.93" y="209.73"/>
<use href="#d" x="122.98" y="212.57"/>
<use href="#d" x="132.13" y="210.67"/>
<use href="#d" x="141.75" y="208.94"/>
<use href="#d" x="145.85" y="212.57"/>
<use href="#d" x="153.11" y="210.36"/>
<use href="#d" x="154.06" y="211.15"/>
<use href="#d" x="114.30" y="215.09"/>
<use href="#d" x="112.25" y="218.56"/>
<use href="#d" x="129.45" y="218.88"/>
<use href="#d" x="137.81" y="215.56"/>
<use href="#d" x="147.43" y="218.56"/>
<use href="#d" x="121.56" y="221.56"/>
<use href="#d" x="142.07" y="222.51"/>
<use href="#d" x="116.20" y="226.61"/>
<use href="#d" x="134.97" y="226.92"/>
<use href="#d" x="112.88" y="231.03"/>
<use href="#d" x="127.55" y="230.87"/>
<use href="#d" x="145.07" y="231.18"/>
<use href="#d" x="147.12" y="228.66"/>
<use href="#d" x="120.46" y="234.81"/>
<use href="#d" x="140.33" y="234.65"/>
<use href="#d" x="114.78" y="239.07"/>
<use href="#d" x="133.87" y="239.07"/>
<use href="#d" x="146.96" y="241.28"/>
<use href="#d" x="112.09" y="242.86"/>
<use href="#d" x="126.13" y="243.17"/>
<use href="#d" x="144.28" y="243.02"/>
<use href="#d" x="118.72" y="247.12"/>
<use href="#d" x="139.23" y="247.43"/>
<use href="#d" x="113.67" y="251.06"/>
<use href="#d" x="132.45" y="251.06"/>
<use href="#d" x="148.38" y="250.59"/>
<use href="#d" x="145.85" y="253.11"/>
<use href="#d" x="111.94" y="255.95"/>
<use href="#d" x="124.87" y="255.32"/>
<use href="#d" x="140.02" y="257.84"/>
<use href="#d" x="118.25" y="259.42"/>
<use href="#d" x="113.99" y="263.68"/>
<use href="#d" x="132.92" y="262.89"/>
<use href="#d" x="147.43" y="261.63"/>
<use href="#d" x="143.96" y="264.94"/>
<ellipse cx="131.81" cy="254.53" rx="1.1" ry="1.3" fill="#e4e4e4"/>
<ellipse cx="136.23" cy="264.63" rx="1.1" ry="1.3" fill="#e4e4e4"/>
<use href="#d" x="124.72" y="267.05"/>
<ellipse cx="128.19" cy="266.26" rx="1.65" ry="2.2" fill="#f8bcc5"/>
<use href="#d" x="117.93" y="271.63"/>
<use href="#d" x="113.83" y="275.89"/>
<use href="#d" x="123.77" y="278.73"/>
<use href="#d" x="131.66" y="275.10"/>
<use href="#d" x="139.07" y="271.31"/>
<use href="#d" x="145.85" y="273.20"/>
<use href="#d" x="117.62" y="282.83"/>
<use href="#d" x="113.36" y="286.46"/>
<use href="#d" x="129.92" y="286.93"/>
<use href="#d" x="137.34" y="283.77"/>
<use href="#d" x="143.33" y="279.99"/>
<use href="#d" x="147.12" y="282.98"/>
<use href="#d" x="122.03" y="290.40"/>
<use href="#d" x="115.56" y="294.50"/>
<use href="#d" x="142.54" y="291.35"/>
<use href="#d" x="146.17" y="289.93"/>
<use href="#d" x="148.85" y="295.29"/>
<use href="#d" x="110.99" y="298.45"/>
<use href="#d" x="127.71" y="298.29"/>
<use href="#d" x="135.92" y="295.13"/>
<use href="#d" x="119.67" y="302.23"/>
<use href="#d" x="142.54" y="300.65"/>
<use href="#d" x="147.59" y="303.02"/>
<use href="#d" x="150.59" y="302.55"/>
<use href="#d" x="113.83" y="306.49"/>
<use href="#d" x="133.87" y="306.49"/>
<use href="#d" x="110.04" y="310.59"/>
<use href="#d" x="126.29" y="310.12"/>
<use href="#d" x="140.33" y="310.12"/>
<use href="#d" x="119.19" y="313.43"/>
<use href="#d" x="145.22" y="314.54"/>
<use href="#d" x="149.33" y="312.64"/>
<use href="#d" x="114.30" y="318.48"/>
<use href="#d" x="134.02" y="317.22"/>
<use href="#d" x="112.88" y="321.95"/>
<use href="#d" x="120.93" y="323.37"/>
<use href="#d" x="127.08" y="320.37"/>
<use href="#d" x="139.54" y="321.16"/>
<use href="#d" x="145.07" y="323.37"/>
<use href="#d" x="118.40" y="328.42"/>
<use href="#d" x="125.82" y="329.37"/>
<use href="#d" x="131.97" y="326.84"/>
<use href="#d" x="138.44" y="328.74"/>
<use href="#d" x="124.87" y="332.99"/>
<use href="#d" x="131.66" y="332.05"/>
<use href="#d" x="137.34" y="332.99"/>
<ellipse cx="143.17" cy="328.74" rx="1.1" ry="1.3" fill="#e4e4e4"/>
<text class="tt" transform="translate(204.75 197.00) scale(1 1.1)" text-anchor="middle">t=1h</text>
<line x1="172.10" y1="333.38" x2="173.90" y2="333.38" stroke="#8a8a8a" stroke-width="0.7"/>
<text class="tk" transform="translate(170.60 335.12) scale(1 1.15)" text-anchor="end">0</text>
<line x1="172.10" y1="315.52" x2="173.90" y2="315.52" stroke="#8a8a8a" stroke-width="0.7"/>
<text class="tk" transform="translate(170.60 317.27) scale(1 1.15)" text-anchor="end">10</text>
<line x1="172.10" y1="297.68" x2="173.90" y2="297.68" stroke="#8a8a8a" stroke-width="0.7"/>
<text class="tk" transform="translate(170.60 299.43) scale(1 1.15)" text-anchor="end">20</text>
<line x1="172.10" y1="279.83" x2="173.90" y2="279.83" stroke="#8a8a8a" stroke-width="0.7"/>
<text class="tk" transform="translate(170.60 281.58) scale(1 1.15)" text-anchor="end">30</text>
<line x1="172.10" y1="261.98" x2="173.90" y2="261.98" stroke="#8a8a8a" stroke-width="0.7"/>
<text class="tk" transform="translate(170.60 263.73) scale(1 1.15)" text-anchor="end">40</text>
<line x1="172.10" y1="244.12" x2="173.90" y2="244.12" stroke="#8a8a8a" stroke-width="0.7"/>
<text class="tk" transform="translate(170.60 245.88) scale(1 1.15)" text-anchor="end">50</text>
<line x1="172.10" y1="226.28" x2="173.90" y2="226.28" stroke="#8a8a8a" stroke-width="0.7"/>
<text class="tk" transform="translate(170.60 228.03) scale(1 1.15)" text-anchor="end">60</text>
<line x1="172.10" y1="208.43" x2="173.90" y2="208.43" stroke="#8a8a8a" stroke-width="0.7"/>
<text class="tk" transform="translate(170.60 210.18) scale(1 1.15)" text-anchor="end">70</text>
<line x1="180.07" y1="342.30" x2="180.07" y2="344.10" stroke="#8a8a8a" stroke-width="0.7"/>
<text class="tk" transform="translate(180.07 349.20) scale(1 1.15)" text-anchor="middle">-20</text>
<line x1="204.75" y1="342.30" x2="204.75" y2="344.10" stroke="#8a8a8a" stroke-width="0.7"/>
<text class="tk" transform="translate(204.75 349.20) scale(1 1.15)" text-anchor="middle">0</text>
<line x1="229.43" y1="342.30" x2="229.43" y2="344.10" stroke="#8a8a8a" stroke-width="0.7"/>
<text class="tk" transform="translate(229.43 349.20) scale(1 1.15)" text-anchor="middle">20</text>
<rect x="173.90" y="199.50" width="61.7" height="142.8" fill="none" stroke="#b8b8b8" stroke-width="1.1"/>
<use href="#d" x="180.31" y="210.36"/>
<use href="#d" x="190.56" y="210.83"/>
<use href="#d" x="198.30" y="211.31"/>
<use href="#d" x="207.13" y="210.04"/>
<use href="#d" x="221.17" y="211.62"/>
<use href="#d" x="228.11" y="209.73"/>
<use href="#d" x="229.06" y="210.36"/>
<ellipse cx="215.96" cy="208.78" rx="1.1" ry="1.3" fill="#e4e4e4"/>
<use href="#d" x="187.41" y="214.30"/>
<use href="#d" x="186.15" y="218.25"/>
<use href="#d" x="195.77" y="219.67"/>
<use href="#d" x="204.13" y="217.62"/>
<use href="#d" x="212.81" y="214.46"/>
<use href="#d" x="222.43" y="217.30"/>
<use href="#d" x="216.91" y="220.77"/>
<use href="#d" x="190.56" y="225.03"/>
<use href="#d" x="209.97" y="225.03"/>
<use href="#d" x="187.57" y="230.08"/>
<use href="#d" x="201.92" y="228.66"/>
<use href="#d" x="219.75" y="229.29"/>
<use href="#d" x="221.80" y="227.08"/>
<use href="#d" x="194.82" y="232.92"/>
<use href="#d" x="215.18" y="233.08"/>
<use href="#d" x="189.15" y="237.49"/>
<use href="#d" x="208.55" y="237.18"/>
<use href="#d" x="221.80" y="238.76"/>
<use href="#d" x="186.46" y="241.75"/>
<use href="#d" x="200.66" y="241.28"/>
<use href="#d" x="219.12" y="241.60"/>
<use href="#d" x="193.40" y="245.54"/>
<use href="#d" x="213.91" y="245.22"/>
<use href="#d" x="188.20" y="249.80"/>
<use href="#d" x="207.13" y="249.48"/>
<use href="#d" x="222.75" y="249.17"/>
<use href="#d" x="220.07" y="252.01"/>
<use href="#d" x="186.46" y="255.01"/>
<use href="#d" x="199.56" y="253.59"/>
<use href="#d" x="214.23" y="256.11"/>
<use href="#d" x="192.93" y="257.84"/>
<use href="#d" x="188.67" y="262.42"/>
<use href="#d" x="206.81" y="261.47"/>
<use href="#d" x="221.64" y="260.21"/>
<use href="#d" x="218.49" y="264.00"/>
<use href="#d" x="187.09" y="266.89"/>
<use href="#d" x="199.24" y="265.95"/>
<ellipse cx="202.40" cy="266.58" rx="1.65" ry="2.2" fill="#f8bcc5"/>
<use href="#d" x="192.62" y="270.05"/>
<use href="#d" x="212.97" y="268.79"/>
<use href="#d" x="221.80" y="269.42"/>
<use href="#d" x="188.51" y="274.78"/>
<use href="#d" x="198.14" y="277.46"/>
<use href="#d" x="206.03" y="273.99"/>
<use href="#d" x="216.28" y="277.15"/>
<use href="#d" x="220.07" y="272.73"/>
<use href="#d" x="191.83" y="281.72"/>
<use href="#d" x="187.73" y="286.61"/>
<use href="#d" x="203.97" y="285.51"/>
<use href="#d" x="211.55" y="282.98"/>
<use href="#d" x="219.91" y="285.04"/>
<use href="#d" x="221.64" y="281.09"/>
<use href="#d" x="196.24" y="289.61"/>
<use href="#d" x="189.78" y="293.71"/>
<use href="#d" x="209.65" y="293.87"/>
<use href="#d" x="216.91" y="290.56"/>
<use href="#d" x="222.59" y="294.34"/>
<use href="#d" x="185.20" y="298.60"/>
<use href="#d" x="201.77" y="297.50"/>
<use href="#d" x="193.88" y="301.44"/>
<use href="#d" x="215.33" y="299.87"/>
<use href="#d" x="221.17" y="301.60"/>
<use href="#d" x="224.64" y="301.44"/>
<use href="#d" x="188.04" y="305.39"/>
<use href="#d" x="207.92" y="305.39"/>
<use href="#d" x="223.85" y="308.23"/>
<use href="#d" x="184.10" y="309.96"/>
<use href="#d" x="185.36" y="311.07"/>
<use href="#d" x="200.35" y="309.65"/>
<use href="#d" x="214.54" y="309.65"/>
<use href="#d" x="193.40" y="312.80"/>
<use href="#d" x="219.59" y="313.59"/>
<use href="#d" x="189.15" y="318.64"/>
<use href="#d" x="208.23" y="315.96"/>
<use href="#d" x="222.91" y="317.85"/>
<use href="#d" x="187.09" y="321.79"/>
<use href="#d" x="195.93" y="323.06"/>
<use href="#d" x="201.77" y="319.90"/>
<use href="#d" x="213.44" y="321.16"/>
<use href="#d" x="218.49" y="323.84"/>
<use href="#d" x="193.09" y="328.26"/>
<use href="#d" x="200.50" y="329.21"/>
<use href="#d" x="206.81" y="326.68"/>
<use href="#d" x="212.34" y="329.37"/>
<use href="#d" x="217.70" y="328.42"/>
<use href="#d" x="199.40" y="332.99"/>
<use href="#d" x="205.87" y="332.05"/>
<use href="#d" x="211.86" y="332.99"/>
<ellipse cx="221.01" cy="290.24" rx="1.1" ry="1.3" fill="#e4e4e4"/>
<ellipse cx="223.85" cy="312.01" rx="1.1" ry="1.3" fill="#e4e4e4"/>
<text class="tt" transform="translate(279.05 197.00) scale(1 1.1)" text-anchor="middle">t=2h</text>
<line x1="246.40" y1="333.38" x2="248.20" y2="333.38" stroke="#8a8a8a" stroke-width="0.7"/>
<text class="tk" transform="translate(244.90 335.12) scale(1 1.15)" text-anchor="end">0</text>
<line x1="246.40" y1="315.52" x2="248.20" y2="315.52" stroke="#8a8a8a" stroke-width="0.7"/>
<text class="tk" transform="translate(244.90 317.27) scale(1 1.15)" text-anchor="end">10</text>
<line x1="246.40" y1="297.68" x2="248.20" y2="297.68" stroke="#8a8a8a" stroke-width="0.7"/>
<text class="tk" transform="translate(244.90 299.43) scale(1 1.15)" text-anchor="end">20</text>
<line x1="246.40" y1="279.83" x2="248.20" y2="279.83" stroke="#8a8a8a" stroke-width="0.7"/>
<text class="tk" transform="translate(244.90 281.58) scale(1 1.15)" text-anchor="end">30</text>
<line x1="246.40" y1="261.98" x2="248.20" y2="261.98" stroke="#8a8a8a" stroke-width="0.7"/>
<text class="tk" transform="translate(244.90 263.73) scale(1 1.15)" text-anchor="end">40</text>
<line x1="246.40" y1="244.12" x2="248.20" y2="244.12" stroke="#8a8a8a" stroke-width="0.7"/>
<text class="tk" transform="translate(244.90 245.88) scale(1 1.15)" text-anchor="end">50</text>
<line x1="246.40" y1="226.28" x2="248.20" y2="226.28" stroke="#8a8a8a" stroke-width="0.7"/>
<text class="tk" transform="translate(244.90 228.03) scale(1 1.15)" text-anchor="end">60</text>
<line x1="246.40" y1="208.43" x2="248.20" y2="208.43" stroke="#8a8a8a" stroke-width="0.7"/>
<text class="tk" transform="translate(244.90 210.18) scale(1 1.15)" text-anchor="end">70</text>
<line x1="254.37" y1="342.30" x2="254.37" y2="344.10" stroke="#8a8a8a" stroke-width="0.7"/>
<text class="tk" transform="translate(254.37 349.20) scale(1 1.15)" text-anchor="middle">-20</text>
<line x1="279.05" y1="342.30" x2="279.05" y2="344.10" stroke="#8a8a8a" stroke-width="0.7"/>
<text class="tk" transform="translate(279.05 349.20) scale(1 1.15)" text-anchor="middle">0</text>
<line x1="303.73" y1="342.30" x2="303.73" y2="344.10" stroke="#8a8a8a" stroke-width="0.7"/>
<text class="tk" transform="translate(303.73 349.20) scale(1 1.15)" text-anchor="middle">20</text>
<rect x="248.20" y="199.50" width="61.7" height="142.8" fill="none" stroke="#b8b8b8" stroke-width="1.1"/>
<use href="#d" x="253.52" y="209.41"/>
<use href="#d" x="263.93" y="209.89"/>
<use href="#d" x="272.14" y="210.99"/>
<use href="#d" x="280.97" y="208.62"/>
<use href="#d" x="287.76" y="212.57"/>
<use href="#d" x="296.91" y="210.36"/>
<use href="#d" x="304.95" y="209.25"/>
<use href="#d" x="260.62" y="212.73"/>
<use href="#d" x="259.52" y="216.04"/>
<use href="#d" x="268.98" y="217.46"/>
<use href="#d" x="279.24" y="214.78"/>
<use href="#d" x="291.86" y="218.09"/>
<use href="#d" x="298.17" y="214.62"/>
<use href="#d" x="264.72" y="222.98"/>
<use href="#d" x="275.92" y="223.45"/>
<use href="#d" x="284.13" y="222.98"/>
<use href="#d" x="294.22" y="225.82"/>
<use href="#d" x="296.43" y="222.98"/>
<use href="#d" x="262.04" y="227.71"/>
<use href="#d" x="269.61" y="230.55"/>
<use href="#d" x="289.81" y="230.08"/>
<use href="#d" x="263.46" y="235.28"/>
<use href="#d" x="276.71" y="233.87"/>
<use href="#d" x="283.97" y="234.81"/>
<use href="#d" x="295.96" y="235.13"/>
<use href="#d" x="293.75" y="238.44"/>
<use href="#d" x="261.09" y="240.02"/>
<use href="#d" x="267.40" y="242.07"/>
<use href="#d" x="274.35" y="241.75"/>
<use href="#d" x="289.18" y="242.54"/>
<use href="#d" x="262.67" y="247.91"/>
<use href="#d" x="281.76" y="246.33"/>
<use href="#d" x="296.91" y="245.70"/>
<use href="#d" x="294.38" y="249.48"/>
<use href="#d" x="271.66" y="250.75"/>
<use href="#d" x="260.62" y="253.43"/>
<use href="#d" x="277.34" y="254.85"/>
<use href="#d" x="288.70" y="253.59"/>
<use href="#d" x="267.09" y="256.11"/>
<use href="#d" x="296.43" y="257.53"/>
<use href="#d" x="262.83" y="260.84"/>
<use href="#d" x="282.71" y="260.37"/>
<use href="#d" x="292.65" y="260.84"/>
<use href="#d" x="273.40" y="264.00"/>
<use href="#d" x="261.41" y="265.47"/>
<ellipse cx="276.40" cy="266.58" rx="1.65" ry="2.2" fill="#f8bcc5"/>
<use href="#d" x="266.93" y="268.47"/>
<use href="#d" x="287.76" y="267.05"/>
<use href="#d" x="296.27" y="266.58"/>
<use href="#d" x="294.38" y="270.05"/>
<use href="#d" x="262.99" y="273.20"/>
<use href="#d" x="272.45" y="276.04"/>
<use href="#d" x="280.66" y="271.78"/>
<use href="#d" x="290.60" y="275.41"/>
<use href="#d" x="295.96" y="278.57"/>
<use href="#d" x="266.14" y="280.62"/>
<use href="#d" x="262.04" y="285.82"/>
<use href="#d" x="278.45" y="284.09"/>
<use href="#d" x="285.86" y="281.25"/>
<use href="#d" x="293.75" y="282.83"/>
<use href="#d" x="271.03" y="288.35"/>
<use href="#d" x="264.56" y="292.77"/>
<use href="#d" x="283.97" y="292.29"/>
<use href="#d" x="291.07" y="289.93"/>
<use href="#d" x="296.43" y="290.24"/>
<use href="#d" x="259.99" y="298.29"/>
<use href="#d" x="276.40" y="296.08"/>
<use href="#d" x="288.70" y="298.92"/>
<use href="#d" x="296.12" y="297.03"/>
<use href="#d" x="298.80" y="300.02"/>
<use href="#d" x="293.91" y="302.23"/>
<use href="#d" x="268.67" y="300.02"/>
<use href="#d" x="262.83" y="304.28"/>
<use href="#d" x="281.76" y="304.28"/>
<use href="#d" x="258.57" y="309.80"/>
<use href="#d" x="259.83" y="310.59"/>
<use href="#d" x="274.66" y="308.70"/>
<use href="#d" x="288.39" y="309.49"/>
<use href="#d" x="298.01" y="307.28"/>
<use href="#d" x="268.04" y="312.17"/>
<use href="#d" x="282.71" y="315.01"/>
<use href="#d" x="293.75" y="312.80"/>
<use href="#d" x="297.54" y="316.90"/>
<use href="#d" x="263.78" y="318.17"/>
<use href="#d" x="261.57" y="321.32"/>
<use href="#d" x="276.55" y="319.43"/>
<use href="#d" x="287.76" y="320.53"/>
<use href="#d" x="292.96" y="323.06"/>
<use href="#d" x="270.56" y="322.42"/>
<use href="#d" x="267.72" y="328.10"/>
<use href="#d" x="267.88" y="330.31"/>
<use href="#d" x="275.29" y="328.89"/>
<use href="#d" x="281.29" y="326.53"/>
<use href="#d" x="286.97" y="329.52"/>
<use href="#d" x="292.65" y="328.10"/>
<use href="#d" x="273.87" y="332.99"/>
<use href="#d" x="280.50" y="332.05"/>
<use href="#d" x="286.34" y="332.99"/>
<text class="tt" transform="translate(353.35 197.00) scale(1 1.1)" text-anchor="middle">t=4h</text>
<line x1="320.70" y1="333.38" x2="322.50" y2="333.38" stroke="#8a8a8a" stroke-width="0.7"/>
<text class="tk" transform="translate(319.20 335.12) scale(1 1.15)" text-anchor="end">0</text>
<line x1="320.70" y1="315.52" x2="322.50" y2="315.52" stroke="#8a8a8a" stroke-width="0.7"/>
<text class="tk" transform="translate(319.20 317.27) scale(1 1.15)" text-anchor="end">10</text>
<line x1="320.70" y1="297.68" x2="322.50" y2="297.68" stroke="#8a8a8a" stroke-width="0.7"/>
<text class="tk" transform="translate(319.20 299.43) scale(1 1.15)" text-anchor="end">20</text>
<line x1="320.70" y1="279.83" x2="322.50" y2="279.83" stroke="#8a8a8a" stroke-width="0.7"/>
<text class="tk" transform="translate(319.20 281.58) scale(1 1.15)" text-anchor="end">30</text>
<line x1="320.70" y1="261.98" x2="322.50" y2="261.98" stroke="#8a8a8a" stroke-width="0.7"/>
<text class="tk" transform="translate(319.20 263.73) scale(1 1.15)" text-anchor="end">40</text>
<line x1="320.70" y1="244.12" x2="322.50" y2="244.12" stroke="#8a8a8a" stroke-width="0.7"/>
<text class="tk" transform="translate(319.20 245.88) scale(1 1.15)" text-anchor="end">50</text>
<line x1="320.70" y1="226.28" x2="322.50" y2="226.28" stroke="#8a8a8a" stroke-width="0.7"/>
<text class="tk" transform="translate(319.20 228.03) scale(1 1.15)" text-anchor="end">60</text>
<line x1="320.70" y1="208.43" x2="322.50" y2="208.43" stroke="#8a8a8a" stroke-width="0.7"/>
<text class="tk" transform="translate(319.20 210.18) scale(1 1.15)" text-anchor="end">70</text>
<line x1="328.67" y1="342.30" x2="328.67" y2="344.10" stroke="#8a8a8a" stroke-width="0.7"/>
<text class="tk" transform="translate(328.67 349.20) scale(1 1.15)" text-anchor="middle">-20</text>
<line x1="353.35" y1="342.30" x2="353.35" y2="344.10" stroke="#8a8a8a" stroke-width="0.7"/>
<text class="tk" transform="translate(353.35 349.20) scale(1 1.15)" text-anchor="middle">0</text>
<line x1="378.03" y1="342.30" x2="378.03" y2="344.10" stroke="#8a8a8a" stroke-width="0.7"/>
<text class="tk" transform="translate(378.03 349.20) scale(1 1.15)" text-anchor="middle">20</text>
<rect x="322.50" y="199.50" width="61.7" height="142.8" fill="none" stroke="#b8b8b8" stroke-width="1.1"/>
<use href="#d" x="331.47" y="209.73"/>
<use href="#d" x="331.15" y="212.57"/>
<use href="#d" x="339.51" y="212.57"/>
<use href="#d" x="344.56" y="208.78"/>
<use href="#d" x="353.71" y="210.36"/>
<use href="#d" x="362.23" y="210.36"/>
<use href="#d" x="366.96" y="213.83"/>
<use href="#d" x="374.38" y="211.46"/>
<use href="#d" x="378.95" y="209.57"/>
<ellipse cx="372.17" cy="208.47" rx="1.1" ry="1.3" fill="#e4e4e4"/>
<use href="#d" x="336.99" y="217.62"/>
<use href="#d" x="347.87" y="215.25"/>
<use href="#d" x="357.02" y="217.93"/>
<use href="#d" x="368.85" y="220.30"/>
<use href="#d" x="372.48" y="217.30"/>
<use href="#d" x="336.04" y="223.14"/>
<use href="#d" x="343.14" y="222.98"/>
<use href="#d" x="350.40" y="225.82"/>
<use href="#d" x="363.33" y="224.24"/>
<use href="#d" x="338.25" y="229.29"/>
<use href="#d" x="357.34" y="230.71"/>
<use href="#d" x="369.96" y="228.66"/>
<use href="#d" x="367.44" y="232.45"/>
<use href="#d" x="336.04" y="235.44"/>
<use href="#d" x="342.51" y="234.81"/>
<use href="#d" x="349.77" y="236.55"/>
<use href="#d" x="363.02" y="237.97"/>
<use href="#d" x="337.46" y="241.75"/>
<use href="#d" x="356.08" y="241.91"/>
<use href="#d" x="369.80" y="241.60"/>
<use href="#d" x="344.88" y="244.75"/>
<use href="#d" x="366.65" y="246.80"/>
<use href="#d" x="335.25" y="248.85"/>
<use href="#d" x="339.98" y="250.59"/>
<use href="#d" x="350.71" y="250.27"/>
<use href="#d" x="360.49" y="250.59"/>
<use href="#d" x="371.38" y="249.48"/>
<use href="#d" x="336.99" y="257.69"/>
<use href="#d" x="345.19" y="256.90"/>
<use href="#d" x="355.29" y="258.63"/>
<use href="#d" x="363.65" y="259.74"/>
<use href="#d" x="368.22" y="255.48"/>
<use href="#d" x="370.43" y="259.26"/>
<use href="#d" x="335.41" y="261.16"/>
<use href="#d" x="348.98" y="264.16"/>
<use href="#d" x="341.25" y="265.79"/>
<ellipse cx="351.34" cy="266.26" rx="1.65" ry="2.2" fill="#f8bcc5"/>
<use href="#d" x="358.60" y="268.31"/>
<use href="#d" x="368.85" y="267.68"/>
<use href="#d" x="336.99" y="269.42"/>
<use href="#d" x="365.23" y="269.73"/>
<use href="#d" x="351.82" y="271.63"/>
<use href="#d" x="370.27" y="271.94"/>
<use href="#d" x="339.67" y="276.99"/>
<use href="#d" x="345.51" y="275.41"/>
<use href="#d" x="353.24" y="280.93"/>
<use href="#d" x="361.12" y="279.51"/>
<use href="#d" x="367.75" y="278.88"/>
<use href="#d" x="370.12" y="282.20"/>
<use href="#d" x="336.67" y="282.98"/>
<use href="#d" x="340.14" y="288.03"/>
<use href="#d" x="346.45" y="286.14"/>
<use href="#d" x="358.13" y="289.14"/>
<use href="#d" x="366.02" y="287.72"/>
<use href="#d" x="370.12" y="291.19"/>
<use href="#d" x="335.25" y="294.34"/>
<use href="#d" x="351.97" y="293.87"/>
<use href="#d" x="363.33" y="294.34"/>
<use href="#d" x="333.04" y="299.08"/>
<use href="#d" x="338.72" y="299.08"/>
<use href="#d" x="344.56" y="298.13"/>
<use href="#d" x="358.28" y="301.60"/>
<use href="#d" x="366.33" y="302.39"/>
<use href="#d" x="369.80" y="299.23"/>
<use href="#d" x="372.80" y="298.76"/>
<use href="#d" x="334.15" y="305.23"/>
<use href="#d" x="351.03" y="306.02"/>
<use href="#d" x="372.17" y="307.60"/>
<use href="#d" x="332.89" y="311.07"/>
<use href="#d" x="338.25" y="309.96"/>
<use href="#d" x="344.56" y="310.59"/>
<use href="#d" x="361.91" y="309.96"/>
<use href="#d" x="368.07" y="312.80"/>
<use href="#d" x="354.97" y="314.54"/>
<use href="#d" x="336.20" y="317.85"/>
<use href="#d" x="336.36" y="322.27"/>
<use href="#d" x="342.35" y="320.85"/>
<use href="#d" x="349.45" y="319.74"/>
<use href="#d" x="360.97" y="320.53"/>
<use href="#d" x="366.17" y="322.74"/>
<use href="#d" x="371.22" y="317.85"/>
<use href="#d" x="341.40" y="328.26"/>
<use href="#d" x="347.87" y="328.58"/>
<use href="#d" x="354.66" y="326.21"/>
<use href="#d" x="360.49" y="329.21"/>
<use href="#d" x="366.80" y="327.79"/>
<use href="#d" x="347.87" y="332.99"/>
<use href="#d" x="354.18" y="331.58"/>
<use href="#d" x="360.81" y="332.99"/>
<text class="al" x="55.95" y="357.40" text-anchor="middle">Cryptwidth in µm</text>
<text class="al" style="font-size:7px" transform="translate(12.6 272.70) rotate(-90)" x="0" y="0" text-anchor="middle">Cryptheight in µm</text>
<text class="tt" transform="translate(56.15 381.50) scale(1 1.1)" text-anchor="middle">t=0h</text>
<line x1="23.50" y1="517.88" x2="25.30" y2="517.88" stroke="#8a8a8a" stroke-width="0.7"/>
<text class="tk" transform="translate(22.00 519.62) scale(1 1.15)" text-anchor="end">0</text>
<line x1="23.50" y1="500.02" x2="25.30" y2="500.02" stroke="#8a8a8a" stroke-width="0.7"/>
<text class="tk" transform="translate(22.00 501.77) scale(1 1.15)" text-anchor="end">10</text>
<line x1="23.50" y1="482.18" x2="25.30" y2="482.18" stroke="#8a8a8a" stroke-width="0.7"/>
<text class="tk" transform="translate(22.00 483.93) scale(1 1.15)" text-anchor="end">20</text>
<line x1="23.50" y1="464.33" x2="25.30" y2="464.33" stroke="#8a8a8a" stroke-width="0.7"/>
<text class="tk" transform="translate(22.00 466.08) scale(1 1.15)" text-anchor="end">30</text>
<line x1="23.50" y1="446.48" x2="25.30" y2="446.48" stroke="#8a8a8a" stroke-width="0.7"/>
<text class="tk" transform="translate(22.00 448.23) scale(1 1.15)" text-anchor="end">40</text>
<line x1="23.50" y1="428.62" x2="25.30" y2="428.62" stroke="#8a8a8a" stroke-width="0.7"/>
<text class="tk" transform="translate(22.00 430.38) scale(1 1.15)" text-anchor="end">50</text>
<line x1="23.50" y1="410.77" x2="25.30" y2="410.77" stroke="#8a8a8a" stroke-width="0.7"/>
<text class="tk" transform="translate(22.00 412.52) scale(1 1.15)" text-anchor="end">60</text>
<line x1="23.50" y1="392.93" x2="25.30" y2="392.93" stroke="#8a8a8a" stroke-width="0.7"/>
<text class="tk" transform="translate(22.00 394.68) scale(1 1.15)" text-anchor="end">70</text>
<line x1="31.47" y1="526.80" x2="31.47" y2="528.60" stroke="#8a8a8a" stroke-width="0.7"/>
<text class="tk" transform="translate(31.47 533.70) scale(1 1.15)" text-anchor="middle">-20</text>
<line x1="56.15" y1="526.80" x2="56.15" y2="528.60" stroke="#8a8a8a" stroke-width="0.7"/>
<text class="tk" transform="translate(56.15 533.70) scale(1 1.15)" text-anchor="middle">0</text>
<line x1="80.83" y1="526.80" x2="80.83" y2="528.60" stroke="#8a8a8a" stroke-width="0.7"/>
<text class="tk" transform="translate(80.83 533.70) scale(1 1.15)" text-anchor="middle">20</text>
<rect x="25.30" y="384.00" width="61.7" height="142.8" fill="none" stroke="#b8b8b8" stroke-width="1.1"/>
<use href="#d" x="29.89" y="393.78"/>
<use href="#d" x="33.05" y="394.41"/>
<use href="#d" x="39.04" y="394.25"/>
<use href="#d" x="53.71" y="393.94"/>
<use href="#d" x="63.34" y="394.10"/>
<use href="#d" x="72.33" y="393.78"/>
<use href="#d" x="81.32" y="393.78"/>
<use href="#d" x="36.36" y="400.25"/>
<use href="#d" x="40.46" y="400.41"/>
<use href="#d" x="47.88" y="399.62"/>
<use href="#d" x="57.34" y="400.09"/>
<use href="#d" x="66.18" y="399.78"/>
<use href="#d" x="73.59" y="398.99"/>
<use href="#d" x="76.27" y="399.46"/>
<use href="#d" x="40.15" y="410.50"/>
<use href="#d" x="45.35" y="410.19"/>
<use href="#d" x="52.92" y="409.56"/>
<use href="#d" x="60.97" y="409.56"/>
<use href="#d" x="67.75" y="408.61"/>
<use href="#d" x="72.01" y="408.30"/>
<use href="#d" x="38.25" y="420.76"/>
<use href="#d" x="41.88" y="421.23"/>
<use href="#d" x="48.66" y="420.76"/>
<use href="#d" x="56.87" y="420.60"/>
<use href="#d" x="64.60" y="420.13"/>
<use href="#d" x="70.44" y="418.87"/>
<use href="#d" x="73.12" y="419.02"/>
<use href="#d" x="38.88" y="431.96"/>
<use href="#d" x="44.72" y="431.01"/>
<use href="#d" x="52.61" y="431.49"/>
<use href="#d" x="61.13" y="431.01"/>
<use href="#d" x="68.54" y="430.38"/>
<use href="#d" x="72.80" y="428.80"/>
<use href="#d" x="37.94" y="441.42"/>
<use href="#d" x="41.88" y="440.48"/>
<use href="#d" x="48.51" y="442.37"/>
<use href="#d" x="57.34" y="442.06"/>
<use href="#d" x="65.07" y="441.42"/>
<use href="#d" x="71.07" y="440.16"/>
<use href="#d" x="73.75" y="437.17"/>
<use href="#d" x="39.67" y="447.74"/>
<use href="#d" x="72.49" y="449.00"/>
<use href="#d" x="38.57" y="454.42"/>
<use href="#d" x="44.40" y="452.05"/>
<use href="#d" x="53.08" y="452.05"/>
<use href="#d" x="61.92" y="452.84"/>
<use href="#d" x="68.23" y="451.10"/>
<use href="#d" x="40.46" y="459.62"/>
<use href="#d" x="48.51" y="460.41"/>
<use href="#d" x="57.03" y="461.52"/>
<use href="#d" x="65.39" y="463.73"/>
<use href="#d" x="70.44" y="459.94"/>
<use href="#d" x="72.96" y="459.47"/>
<use href="#d" x="43.46" y="465.93"/>
<use href="#d" x="38.57" y="469.56"/>
<use href="#d" x="51.66" y="469.40"/>
<use href="#d" x="60.34" y="470.51"/>
<use href="#d" x="71.22" y="469.56"/>
<use href="#d" x="73.43" y="470.67"/>
<use href="#d" x="40.15" y="475.87"/>
<use href="#d" x="45.98" y="475.08"/>
<use href="#d" x="54.66" y="478.55"/>
<use href="#d" x="62.39" y="479.97"/>
<use href="#d" x="68.38" y="475.40"/>
<use href="#d" x="73.59" y="479.97"/>
<use href="#d" x="36.99" y="482.34"/>
<use href="#d" x="40.93" y="485.50"/>
<use href="#d" x="48.19" y="483.60"/>
<use href="#d" x="35.25" y="490.39"/>
<use href="#d" x="37.62" y="492.91"/>
<use href="#d" x="43.62" y="495.59"/>
<use href="#d" x="48.82" y="492.75"/>
<use href="#d" x="55.92" y="488.97"/>
<use href="#d" x="62.55" y="490.39"/>
<use href="#d" x="69.17" y="486.92"/>
<use href="#d" x="73.12" y="490.39"/>
<use href="#d" x="76.11" y="489.60"/>
<use href="#d" x="36.99" y="500.96"/>
<use href="#d" x="41.25" y="502.85"/>
<use href="#d" x="53.87" y="499.06"/>
<use href="#d" x="61.44" y="499.54"/>
<use href="#d" x="69.02" y="499.06"/>
<use href="#d" x="74.06" y="500.17"/>
<use href="#d" x="48.03" y="505.53"/>
<use href="#d" x="41.41" y="509.63"/>
<ellipse cx="55.61" cy="508.21" rx="1.1" ry="1.45" fill="#4a0008" stroke="#d03a3a" stroke-width="0.6"/>
<use href="#d" x="62.86" y="508.37"/>
<use href="#d" x="69.65" y="508.37"/>
<use href="#d" x="71.38" y="510.11"/>
<use href="#d" x="47.72" y="513.42"/>
<use href="#d" x="54.03" y="514.05"/>
<use href="#d" x="59.55" y="514.68"/>
<use href="#d" x="64.76" y="515.00"/>
<use href="#d" x="45.51" y="516.10"/>
<use href="#d" x="51.19" y="517.84"/>
<use href="#d" x="56.87" y="517.84"/>
<use href="#d" x="62.55" y="517.84"/>
<text class="tt" transform="translate(130.45 381.50) scale(1 1.1)" text-anchor="middle">t=0.5h</text>
<line x1="97.80" y1="517.88" x2="99.60" y2="517.88" stroke="#8a8a8a" stroke-width="0.7"/>
<text class="tk" transform="translate(96.30 519.62) scale(1 1.15)" text-anchor="end">0</text>
<line x1="97.80" y1="500.02" x2="99.60" y2="500.02" stroke="#8a8a8a" stroke-width="0.7"/>
<text class="tk" transform="translate(96.30 501.77) scale(1 1.15)" text-anchor="end">10</text>
<line x1="97.80" y1="482.18" x2="99.60" y2="482.18" stroke="#8a8a8a" stroke-width="0.7"/>
<text class="tk" transform="translate(96.30 483.93) scale(1 1.15)" text-anchor="end">20</text>
<line x1="97.80" y1="464.33" x2="99.60" y2="464.33" stroke="#8a8a8a" stroke-width="0.7"/>
<text class="tk" transform="translate(96.30 466.08) scale(1 1.15)" text-anchor="end">30</text>
<line x1="97.80" y1="446.48" x2="99.60" y2="446.48" stroke="#8a8a8a" stroke-width="0.7"/>
<text class="tk" transform="translate(96.30 448.23) scale(1 1.15)" text-anchor="end">40</text>
<line x1="97.80" y1="428.62" x2="99.60" y2="428.62" stroke="#8a8a8a" stroke-width="0.7"/>
<text class="tk" transform="translate(96.30 430.38) scale(1 1.15)" text-anchor="end">50</text>
<line x1="97.80" y1="410.77" x2="99.60" y2="410.77" stroke="#8a8a8a" stroke-width="0.7"/>
<text class="tk" transform="translate(96.30 412.52) scale(1 1.15)" text-anchor="end">60</text>
<line x1="97.80" y1="392.93" x2="99.60" y2="392.93" stroke="#8a8a8a" stroke-width="0.7"/>
<text class="tk" transform="translate(96.30 394.68) scale(1 1.15)" text-anchor="end">70</text>
<line x1="105.77" y1="526.80" x2="105.77" y2="528.60" stroke="#8a8a8a" stroke-width="0.7"/>
<text class="tk" transform="translate(105.77 533.70) scale(1 1.15)" text-anchor="middle">-20</text>
<line x1="130.45" y1="526.80" x2="130.45" y2="528.60" stroke="#8a8a8a" stroke-width="0.7"/>
<text class="tk" transform="translate(130.45 533.70) scale(1 1.15)" text-anchor="middle">0</text>
<line x1="155.13" y1="526.80" x2="155.13" y2="528.60" stroke="#8a8a8a" stroke-width="0.7"/>
<text class="tk" transform="translate(155.13 533.70) scale(1 1.15)" text-anchor="middle">20</text>
<rect x="99.60" y="384.00" width="61.7" height="142.8" fill="none" stroke="#b8b8b8" stroke-width="1.1"/>
<use href="#d" x="103.10" y="392.99"/>
<use href="#d" x="106.73" y="393.62"/>
<use href="#d" x="112.88" y="393.47"/>
<use href="#d" x="127.71" y="393.31"/>
<use href="#d" x="137.49" y="393.47"/>
<use href="#d" x="146.96" y="393.15"/>
<use href="#d" x="156.58" y="392.99"/>
<use href="#d" x="109.89" y="399.15"/>
<use href="#d" x="114.30" y="399.46"/>
<use href="#d" x="121.88" y="398.67"/>
<use href="#d" x="131.50" y="399.15"/>
<use href="#d" x="140.33" y="398.99"/>
<use href="#d" x="148.54" y="397.88"/>
<use href="#d" x="151.22" y="398.51"/>
<use href="#d" x="114.30" y="408.77"/>
<use href="#d" x="119.51" y="408.61"/>
<use href="#d" x="127.08" y="408.30"/>
<use href="#d" x="135.13" y="408.30"/>
<use href="#d" x="142.23" y="407.19"/>
<use href="#d" x="146.64" y="407.03"/>
<use href="#d" x="112.88" y="418.71"/>
<use href="#d" x="116.04" y="419.50"/>
<use href="#d" x="122.82" y="419.02"/>
<use href="#d" x="131.03" y="419.02"/>
<use href="#d" x="138.91" y="418.39"/>
<use href="#d" x="144.59" y="417.60"/>
<use href="#d" x="147.27" y="417.76"/>
<use href="#d" x="113.20" y="430.07"/>
<use href="#d" x="118.72" y="429.91"/>
<use href="#d" x="126.61" y="429.91"/>
<use href="#d" x="135.60" y="429.44"/>
<use href="#d" x="142.86" y="428.96"/>
<use href="#d" x="146.96" y="427.54"/>
<use href="#d" x="112.09" y="439.53"/>
<use href="#d" x="115.56" y="439.37"/>
<use href="#d" x="122.35" y="440.48"/>
<use href="#d" x="131.03" y="439.85"/>
<use href="#d" x="139.39" y="439.53"/>
<use href="#d" x="145.22" y="439.22"/>
<use href="#d" x="148.06" y="436.22"/>
<use href="#d" x="113.67" y="447.74"/>
<use href="#d" x="118.40" y="449.94"/>
<use href="#d" x="126.92" y="450.26"/>
<use href="#d" x="135.76" y="449.79"/>
<use href="#d" x="142.54" y="449.94"/>
<use href="#d" x="146.80" y="448.68"/>
<use href="#d" x="112.88" y="456.31"/>
<use href="#d" x="115.25" y="459.47"/>
<use href="#d" x="122.03" y="457.57"/>
<use href="#d" x="131.66" y="459.47"/>
<use href="#d" x="139.23" y="461.04"/>
<use href="#d" x="144.75" y="459.94"/>
<use href="#d" x="147.12" y="458.99"/>
<use href="#d" x="118.56" y="466.25"/>
<use href="#d" x="125.82" y="463.88"/>
<use href="#d" x="113.20" y="468.77"/>
<use href="#d" x="134.02" y="469.88"/>
<use href="#d" x="126.13" y="471.77"/>
<use href="#d" x="140.96" y="472.40"/>
<use href="#d" x="145.38" y="470.35"/>
<use href="#d" x="147.75" y="470.19"/>
<use href="#d" x="114.62" y="475.08"/>
<use href="#d" x="120.30" y="475.87"/>
<use href="#d" x="128.97" y="479.50"/>
<use href="#d" x="136.55" y="480.45"/>
<use href="#d" x="144.12" y="482.34"/>
<use href="#d" x="148.22" y="480.13"/>
<use href="#d" x="111.46" y="481.87"/>
<use href="#d" x="115.72" y="485.34"/>
<use href="#d" x="122.82" y="486.13"/>
<use href="#d" x="109.41" y="490.39"/>
<use href="#d" x="112.09" y="492.28"/>
<use href="#d" x="131.97" y="489.28"/>
<use href="#d" x="140.49" y="490.39"/>
<use href="#d" x="146.96" y="491.81"/>
<use href="#d" x="150.27" y="490.39"/>
<use href="#d" x="118.88" y="495.59"/>
<use href="#d" x="126.13" y="496.85"/>
<use href="#d" x="134.97" y="498.59"/>
<use href="#d" x="142.54" y="499.69"/>
<use href="#d" x="148.22" y="500.48"/>
<use href="#d" x="111.31" y="500.80"/>
<use href="#d" x="115.09" y="501.90"/>
<use href="#d" x="121.88" y="506.01"/>
<use href="#d" x="128.97" y="506.48"/>
<ellipse cx="129.92" cy="508.06" rx="1.65" ry="2.2" fill="#f8bcc5"/>
<use href="#d" x="116.04" y="509.48"/>
<use href="#d" x="136.55" y="508.37"/>
<use href="#d" x="143.49" y="508.06"/>
<use href="#d" x="145.07" y="510.58"/>
<use href="#d" x="122.35" y="513.74"/>
<use href="#d" x="128.19" y="513.89"/>
<use href="#d" x="133.71" y="514.68"/>
<use href="#d" x="138.76" y="514.68"/>
<use href="#d" x="119.82" y="516.10"/>
<use href="#d" x="126.13" y="517.84"/>
<use href="#d" x="131.50" y="517.68"/>
<use href="#d" x="137.34" y="517.84"/>
<text class="tt" transform="translate(204.75 381.50) scale(1 1.1)" text-anchor="middle">t=1h</text>
<line x1="172.10" y1="517.88" x2="173.90" y2="517.88" stroke="#8a8a8a" stroke-width="0.7"/>
<text class="tk" transform="translate(170.60 519.62) scale(1 1.15)" text-anchor="end">0</text>
<line x1="172.10" y1="500.02" x2="173.90" y2="500.02" stroke="#8a8a8a" stroke-width="0.7"/>
<text class="tk" transform="translate(170.60 501.77) scale(1 1.15)" text-anchor="end">10</text>
<line x1="172.10" y1="482.18" x2="173.90" y2="482.18" stroke="#8a8a8a" stroke-width="0.7"/>
<text class="tk" transform="translate(170.60 483.93) scale(1 1.15)" text-anchor="end">20</text>
<line x1="172.10" y1="464.33" x2="173.90" y2="464.33" stroke="#8a8a8a" stroke-width="0.7"/>
<text class="tk" transform="translate(170.60 466.08) scale(1 1.15)" text-anchor="end">30</text>
<line x1="172.10" y1="446.48" x2="173.90" y2="446.48" stroke="#8a8a8a" stroke-width="0.7"/>
<text class="tk" transform="translate(170.60 448.23) scale(1 1.15)" text-anchor="end">40</text>
<line x1="172.10" y1="428.62" x2="173.90" y2="428.62" stroke="#8a8a8a" stroke-width="0.7"/>
<text class="tk" transform="translate(170.60 430.38) scale(1 1.15)" text-anchor="end">50</text>
<line x1="172.10" y1="410.77" x2="173.90" y2="410.77" stroke="#8a8a8a" stroke-width="0.7"/>
<text class="tk" transform="translate(170.60 412.52) scale(1 1.15)" text-anchor="end">60</text>
<line x1="172.10" y1="392.93" x2="173.90" y2="392.93" stroke="#8a8a8a" stroke-width="0.7"/>
<text class="tk" transform="translate(170.60 394.68) scale(1 1.15)" text-anchor="end">70</text>
<line x1="180.07" y1="526.80" x2="180.07" y2="528.60" stroke="#8a8a8a" stroke-width="0.7"/>
<text class="tk" transform="translate(180.07 533.70) scale(1 1.15)" text-anchor="middle">-20</text>
<line x1="204.75" y1="526.80" x2="204.75" y2="528.60" stroke="#8a8a8a" stroke-width="0.7"/>
<text class="tk" transform="translate(204.75 533.70) scale(1 1.15)" text-anchor="middle">0</text>
<line x1="229.43" y1="526.80" x2="229.43" y2="528.60" stroke="#8a8a8a" stroke-width="0.7"/>
<text class="tk" transform="translate(229.43 533.70) scale(1 1.15)" text-anchor="middle">20</text>
<rect x="173.90" y="384.00" width="61.7" height="142.8" fill="none" stroke="#b8b8b8" stroke-width="1.1"/>
<ellipse cx="181.10" cy="392.99" rx="1.1" ry="1.3" fill="#e4e4e4"/>
<ellipse cx="202.08" cy="392.68" rx="1.1" ry="1.3" fill="#e4e4e4"/>
<ellipse cx="221.64" cy="392.83" rx="1.1" ry="1.3" fill="#e4e4e4"/>
<ellipse cx="231.11" cy="392.52" rx="1.1" ry="1.3" fill="#e4e4e4"/>
<use href="#d" x="188.04" y="392.68"/>
<use href="#d" x="211.55" y="392.36"/>
<use href="#d" x="228.74" y="393.94"/>
<use href="#d" x="182.83" y="397.41"/>
<use href="#d" x="187.88" y="398.04"/>
<use href="#d" x="195.77" y="397.88"/>
<use href="#d" x="205.55" y="397.88"/>
<use href="#d" x="215.02" y="397.57"/>
<use href="#d" x="222.43" y="397.41"/>
<use href="#d" x="226.38" y="396.94"/>
<use href="#d" x="188.51" y="406.09"/>
<use href="#d" x="193.56" y="406.09"/>
<use href="#d" x="201.13" y="406.40"/>
<use href="#d" x="209.34" y="406.40"/>
<use href="#d" x="216.60" y="405.61"/>
<use href="#d" x="221.64" y="404.51"/>
<use href="#d" x="187.25" y="416.50"/>
<use href="#d" x="190.72" y="416.97"/>
<use href="#d" x="197.19" y="417.45"/>
<use href="#d" x="205.24" y="417.29"/>
<use href="#d" x="213.12" y="416.97"/>
<use href="#d" x="219.12" y="415.87"/>
<use href="#d" x="221.80" y="415.87"/>
<use href="#d" x="187.88" y="426.28"/>
<use href="#d" x="193.09" y="427.54"/>
<use href="#d" x="200.66" y="428.02"/>
<use href="#d" x="209.34" y="427.86"/>
<use href="#d" x="217.23" y="427.23"/>
<use href="#d" x="221.49" y="425.96"/>
<use href="#d" x="186.62" y="435.43"/>
<use href="#d" x="189.93" y="437.32"/>
<use href="#d" x="196.56" y="438.90"/>
<use href="#d" x="205.08" y="438.27"/>
<use href="#d" x="213.60" y="437.95"/>
<use href="#d" x="219.75" y="437.95"/>
<use href="#d" x="222.75" y="435.59"/>
<use href="#d" x="187.88" y="447.42"/>
<use href="#d" x="192.14" y="448.05"/>
<use href="#d" x="200.82" y="448.68"/>
<use href="#d" x="209.65" y="448.37"/>
<use href="#d" x="216.91" y="448.52"/>
<use href="#d" x="221.33" y="447.89"/>
<use href="#d" x="187.41" y="456.31"/>
<use href="#d" x="189.78" y="458.68"/>
<use href="#d" x="196.09" y="455.84"/>
<use href="#d" x="205.55" y="457.89"/>
<use href="#d" x="213.28" y="459.15"/>
<use href="#d" x="218.96" y="458.99"/>
<use href="#d" x="221.64" y="458.68"/>
<use href="#d" x="193.09" y="466.09"/>
<use href="#d" x="199.72" y="463.57"/>
<use href="#d" x="187.57" y="468.46"/>
<use href="#d" x="208.08" y="468.62"/>
<use href="#d" x="200.98" y="471.46"/>
<use href="#d" x="215.49" y="469.88"/>
<use href="#d" x="219.91" y="469.40"/>
<use href="#d" x="222.27" y="469.88"/>
<use href="#d" x="189.15" y="475.24"/>
<use href="#d" x="194.98" y="476.50"/>
<use href="#d" x="203.34" y="479.50"/>
<use href="#d" x="211.07" y="479.19"/>
<use href="#d" x="218.17" y="479.97"/>
<use href="#d" x="222.43" y="479.50"/>
<use href="#d" x="185.99" y="482.03"/>
<use href="#d" x="190.09" y="485.65"/>
<use href="#d" x="197.66" y="486.44"/>
<use href="#d" x="183.94" y="490.23"/>
<use href="#d" x="186.62" y="492.60"/>
<use href="#d" x="206.81" y="489.28"/>
<use href="#d" x="214.86" y="490.07"/>
<use href="#d" x="221.01" y="490.86"/>
<use href="#d" x="224.80" y="489.76"/>
<use href="#d" x="193.56" y="495.75"/>
<use href="#d" x="201.13" y="496.85"/>
<use href="#d" x="209.34" y="499.06"/>
<use href="#d" x="216.91" y="499.85"/>
<use href="#d" x="222.75" y="500.17"/>
<use href="#d" x="185.52" y="500.80"/>
<use href="#d" x="189.78" y="501.90"/>
<use href="#d" x="196.24" y="506.01"/>
<use href="#d" x="203.97" y="506.79"/>
<ellipse cx="204.61" cy="508.37" rx="1.65" ry="2.2" fill="#f8bcc5"/>
<use href="#d" x="190.41" y="509.48"/>
<use href="#d" x="211.23" y="508.84"/>
<use href="#d" x="217.86" y="508.06"/>
<use href="#d" x="219.59" y="510.58"/>
<use href="#d" x="196.88" y="513.74"/>
<use href="#d" x="202.87" y="513.89"/>
<use href="#d" x="208.23" y="514.84"/>
<use href="#d" x="213.28" y="514.68"/>
<use href="#d" x="194.35" y="516.10"/>
<use href="#d" x="200.50" y="517.84"/>
<use href="#d" x="206.03" y="517.68"/>
<use href="#d" x="211.86" y="517.84"/>
<text class="tt" transform="translate(279.05 381.50) scale(1 1.1)" text-anchor="middle">t=2h</text>
<line x1="246.40" y1="517.88" x2="248.20" y2="517.88" stroke="#8a8a8a" stroke-width="0.7"/>
<text class="tk" transform="translate(244.90 519.62) scale(1 1.15)" text-anchor="end">0</text>
<line x1="246.40" y1="500.02" x2="248.20" y2="500.02" stroke="#8a8a8a" stroke-width="0.7"/>
<text class="tk" transform="translate(244.90 501.77) scale(1 1.15)" text-anchor="end">10</text>
<line x1="246.40" y1="482.18" x2="248.20" y2="482.18" stroke="#8a8a8a" stroke-width="0.7"/>
<text class="tk" transform="translate(244.90 483.93) scale(1 1.15)" text-anchor="end">20</text>
<line x1="246.40" y1="464.33" x2="248.20" y2="464.33" stroke="#8a8a8a" stroke-width="0.7"/>
<text class="tk" transform="translate(244.90 466.08) scale(1 1.15)" text-anchor="end">30</text>
<line x1="246.40" y1="446.48" x2="248.20" y2="446.48" stroke="#8a8a8a" stroke-width="0.7"/>
<text class="tk" transform="translate(244.90 448.23) scale(1 1.15)" text-anchor="end">40</text>
<line x1="246.40" y1="428.62" x2="248.20" y2="428.62" stroke="#8a8a8a" stroke-width="0.7"/>
<text class="tk" transform="translate(244.90 430.38) scale(1 1.15)" text-anchor="end">50</text>
<line x1="246.40" y1="410.77" x2="248.20" y2="410.77" stroke="#8a8a8a" stroke-width="0.7"/>
<text class="tk" transform="translate(244.90 412.52) scale(1 1.15)" text-anchor="end">60</text>
<line x1="246.40" y1="392.93" x2="248.20" y2="392.93" stroke="#8a8a8a" stroke-width="0.7"/>
<text class="tk" transform="translate(244.90 394.68) scale(1 1.15)" text-anchor="end">70</text>
<line x1="254.37" y1="526.80" x2="254.37" y2="528.60" stroke="#8a8a8a" stroke-width="0.7"/>
<text class="tk" transform="translate(254.37 533.70) scale(1 1.15)" text-anchor="middle">-20</text>
<line x1="279.05" y1="526.80" x2="279.05" y2="528.60" stroke="#8a8a8a" stroke-width="0.7"/>
<text class="tk" transform="translate(279.05 533.70) scale(1 1.15)" text-anchor="middle">0</text>
<line x1="303.73" y1="526.80" x2="303.73" y2="528.60" stroke="#8a8a8a" stroke-width="0.7"/>
<text class="tk" transform="translate(303.73 533.70) scale(1 1.15)" text-anchor="middle">20</text>
<rect x="248.20" y="384.00" width="61.7" height="142.8" fill="none" stroke="#b8b8b8" stroke-width="1.1"/>
<use href="#d" x="255.26" y="395.36"/>
<use href="#d" x="259.83" y="395.52"/>
<use href="#d" x="268.82" y="395.52"/>
<use href="#d" x="279.71" y="395.83"/>
<use href="#d" x="289.49" y="395.83"/>
<use href="#d" x="297.22" y="395.52"/>
<use href="#d" x="303.06" y="394.41"/>
<use href="#d" x="303.06" y="395.36"/>
<use href="#d" x="261.57" y="402.62"/>
<use href="#d" x="266.93" y="402.46"/>
<use href="#d" x="274.98" y="403.09"/>
<use href="#d" x="283.65" y="403.56"/>
<use href="#d" x="291.23" y="403.25"/>
<use href="#d" x="296.91" y="401.83"/>
<use href="#d" x="261.73" y="413.03"/>
<use href="#d" x="265.04" y="413.03"/>
<use href="#d" x="271.51" y="413.03"/>
<use href="#d" x="279.39" y="413.82"/>
<use href="#d" x="287.28" y="413.97"/>
<use href="#d" x="292.96" y="413.03"/>
<use href="#d" x="295.96" y="412.87"/>
<use href="#d" x="262.67" y="423.28"/>
<use href="#d" x="267.56" y="423.28"/>
<use href="#d" x="275.13" y="423.91"/>
<use href="#d" x="283.65" y="425.02"/>
<use href="#d" x="291.07" y="424.23"/>
<use href="#d" x="295.64" y="423.44"/>
<use href="#d" x="260.94" y="432.91"/>
<use href="#d" x="264.41" y="433.06"/>
<use href="#d" x="270.40" y="434.33"/>
<use href="#d" x="278.45" y="434.48"/>
<use href="#d" x="288.23" y="434.80"/>
<use href="#d" x="294.22" y="435.27"/>
<use href="#d" x="297.06" y="433.54"/>
<use href="#d" x="262.67" y="441.90"/>
<use href="#d" x="266.93" y="444.58"/>
<use href="#d" x="274.19" y="444.11"/>
<use href="#d" x="283.02" y="441.58"/>
<use href="#d" x="290.60" y="445.53"/>
<use href="#d" x="295.17" y="446.47"/>
<use href="#d" x="296.91" y="443.48"/>
<use href="#d" x="261.73" y="448.68"/>
<use href="#d" x="284.60" y="449.79"/>
<ellipse cx="283.02" cy="446.00" rx="1.1" ry="1.3" fill="#e4e4e4"/>
<use href="#d" x="277.66" y="451.89"/>
<use href="#d" x="270.09" y="454.10"/>
<use href="#d" x="261.88" y="457.10"/>
<use href="#d" x="264.72" y="455.84"/>
<use href="#d" x="287.12" y="457.89"/>
<use href="#d" x="292.65" y="456.78"/>
<use href="#d" x="295.80" y="455.21"/>
<use href="#d" x="280.03" y="460.41"/>
<use href="#d" x="272.93" y="462.62"/>
<use href="#d" x="295.49" y="463.25"/>
<use href="#d" x="262.67" y="467.04"/>
<use href="#d" x="267.09" y="465.93"/>
<use href="#d" x="275.29" y="470.51"/>
<use href="#d" x="282.87" y="468.46"/>
<use href="#d" x="289.49" y="467.83"/>
<use href="#d" x="293.91" y="468.93"/>
<use href="#d" x="296.75" y="470.98"/>
<use href="#d" x="260.15" y="476.82"/>
<use href="#d" x="263.46" y="475.72"/>
<use href="#d" x="269.61" y="475.87"/>
<use href="#d" x="277.66" y="478.55"/>
<use href="#d" x="285.23" y="478.40"/>
<use href="#d" x="291.38" y="478.08"/>
<use href="#d" x="295.01" y="479.97"/>
<use href="#d" x="297.22" y="477.77"/>
<use href="#d" x="260.31" y="482.34"/>
<use href="#d" x="264.72" y="485.81"/>
<use href="#d" x="272.30" y="485.81"/>
<use href="#d" x="258.41" y="490.54"/>
<use href="#d" x="261.09" y="492.60"/>
<use href="#d" x="281.13" y="488.18"/>
<use href="#d" x="289.65" y="488.65"/>
<use href="#d" x="295.33" y="489.60"/>
<use href="#d" x="298.80" y="489.12"/>
<use href="#d" x="268.19" y="495.59"/>
<use href="#d" x="276.08" y="496.38"/>
<use href="#d" x="283.97" y="498.27"/>
<use href="#d" x="291.38" y="499.22"/>
<use href="#d" x="296.91" y="499.38"/>
<use href="#d" x="297.85" y="502.38"/>
<use href="#d" x="260.15" y="501.11"/>
<use href="#d" x="264.41" y="501.90"/>
<use href="#d" x="271.19" y="506.01"/>
<use href="#d" x="278.29" y="506.48"/>
<ellipse cx="278.61" cy="508.37" rx="1.65" ry="2.2" fill="#f8bcc5"/>
<use href="#d" x="264.88" y="509.63"/>
<use href="#d" x="285.86" y="508.06"/>
<use href="#d" x="292.33" y="508.37"/>
<use href="#d" x="293.91" y="510.58"/>
<use href="#d" x="271.66" y="513.74"/>
<use href="#d" x="277.34" y="513.89"/>
<use href="#d" x="282.87" y="514.68"/>
<use href="#d" x="287.91" y="514.84"/>
<use href="#d" x="268.82" y="516.10"/>
<use href="#d" x="274.82" y="517.84"/>
<use href="#d" x="280.34" y="517.68"/>
<use href="#d" x="285.86" y="517.84"/>
<text class="tt" transform="translate(353.35 381.50) scale(1 1.1)" text-anchor="middle">t=4h</text>
<line x1="320.70" y1="517.88" x2="322.50" y2="517.88" stroke="#8a8a8a" stroke-width="0.7"/>
<text class="tk" transform="translate(319.20 519.62) scale(1 1.15)" text-anchor="end">0</text>
<line x1="320.70" y1="500.02" x2="322.50" y2="500.02" stroke="#8a8a8a" stroke-width="0.7"/>
<text class="tk" transform="translate(319.20 501.77) scale(1 1.15)" text-anchor="end">10</text>
<line x1="320.70" y1="482.18" x2="322.50" y2="482.18" stroke="#8a8a8a" stroke-width="0.7"/>
<text class="tk" transform="translate(319.20 483.93) scale(1 1.15)" text-anchor="end">20</text>
<line x1="320.70" y1="464.33" x2="322.50" y2="464.33" stroke="#8a8a8a" stroke-width="0.7"/>
<text class="tk" transform="translate(319.20 466.08) scale(1 1.15)" text-anchor="end">30</text>
<line x1="320.70" y1="446.48" x2="322.50" y2="446.48" stroke="#8a8a8a" stroke-width="0.7"/>
<text class="tk" transform="translate(319.20 448.23) scale(1 1.15)" text-anchor="end">40</text>
<line x1="320.70" y1="428.62" x2="322.50" y2="428.62" stroke="#8a8a8a" stroke-width="0.7"/>
<text class="tk" transform="translate(319.20 430.38) scale(1 1.15)" text-anchor="end">50</text>
<line x1="320.70" y1="410.77" x2="322.50" y2="410.77" stroke="#8a8a8a" stroke-width="0.7"/>
<text class="tk" transform="translate(319.20 412.52) scale(1 1.15)" text-anchor="end">60</text>
<line x1="320.70" y1="392.93" x2="322.50" y2="392.93" stroke="#8a8a8a" stroke-width="0.7"/>
<text class="tk" transform="translate(319.20 394.68) scale(1 1.15)" text-anchor="end">70</text>
<line x1="328.67" y1="526.80" x2="328.67" y2="528.60" stroke="#8a8a8a" stroke-width="0.7"/>
<text class="tk" transform="translate(328.67 533.70) scale(1 1.15)" text-anchor="middle">-20</text>
<line x1="353.35" y1="526.80" x2="353.35" y2="528.60" stroke="#8a8a8a" stroke-width="0.7"/>
<text class="tk" transform="translate(353.35 533.70) scale(1 1.15)" text-anchor="middle">0</text>
<line x1="378.03" y1="526.80" x2="378.03" y2="528.60" stroke="#8a8a8a" stroke-width="0.7"/>
<text class="tk" transform="translate(378.03 533.70) scale(1 1.15)" text-anchor="middle">20</text>
<rect x="322.50" y="384.00" width="61.7" height="142.8" fill="none" stroke="#b8b8b8" stroke-width="1.1"/>
<ellipse cx="326.26" cy="392.99" rx="1.1" ry="1.3" fill="#e4e4e4"/>
<use href="#d" x="330.83" y="392.99"/>
<use href="#d" x="344.40" y="392.99"/>
<use href="#d" x="354.50" y="392.99"/>
<use href="#d" x="363.96" y="392.83"/>
<use href="#d" x="331.15" y="397.57"/>
<use href="#d" x="333.67" y="398.04"/>
<use href="#d" x="339.98" y="397.57"/>
<use href="#d" x="349.77" y="398.67"/>
<use href="#d" x="358.76" y="398.67"/>
<use href="#d" x="367.28" y="397.57"/>
<use href="#d" x="373.90" y="396.46"/>
<use href="#d" x="378.01" y="394.73"/>
<use href="#d" x="336.04" y="406.56"/>
<use href="#d" x="339.35" y="406.56"/>
<use href="#d" x="345.98" y="407.03"/>
<use href="#d" x="354.34" y="407.98"/>
<use href="#d" x="362.07" y="407.19"/>
<use href="#d" x="368.22" y="404.98"/>
<use href="#d" x="372.01" y="403.40"/>
<use href="#d" x="337.30" y="417.45"/>
<use href="#d" x="342.67" y="417.45"/>
<use href="#d" x="350.08" y="418.23"/>
<use href="#d" x="358.60" y="418.55"/>
<use href="#d" x="365.86" y="416.81"/>
<use href="#d" x="369.80" y="414.76"/>
<use href="#d" x="335.25" y="428.17"/>
<use href="#d" x="339.04" y="427.38"/>
<use href="#d" x="345.66" y="428.80"/>
<use href="#d" x="354.50" y="429.12"/>
<use href="#d" x="363.81" y="427.86"/>
<use href="#d" x="369.33" y="426.44"/>
<use href="#d" x="371.38" y="424.70"/>
<use href="#d" x="337.15" y="436.85"/>
<use href="#d" x="342.51" y="440.16"/>
<use href="#d" x="350.08" y="438.43"/>
<use href="#d" x="360.18" y="436.53"/>
<use href="#d" x="367.75" y="437.17"/>
<use href="#d" x="371.38" y="436.85"/>
<use href="#d" x="335.57" y="443.16"/>
<use href="#d" x="356.08" y="445.05"/>
<use href="#d" x="363.96" y="446.00"/>
<use href="#d" x="369.33" y="446.47"/>
<use href="#d" x="338.25" y="448.52"/>
<use href="#d" x="349.13" y="449.63"/>
<use href="#d" x="336.20" y="453.79"/>
<use href="#d" x="343.14" y="452.68"/>
<use href="#d" x="358.92" y="453.94"/>
<use href="#d" x="367.12" y="454.73"/>
<use href="#d" x="370.59" y="451.89"/>
<use href="#d" x="338.56" y="459.62"/>
<use href="#d" x="347.56" y="461.83"/>
<use href="#d" x="353.39" y="458.83"/>
<use href="#d" x="363.33" y="459.78"/>
<use href="#d" x="369.64" y="460.41"/>
<use href="#d" x="341.88" y="464.20"/>
<use href="#d" x="336.20" y="466.41"/>
<use href="#d" x="356.87" y="467.51"/>
<use href="#d" x="363.65" y="469.25"/>
<use href="#d" x="368.07" y="468.30"/>
<use href="#d" x="370.75" y="468.62"/>
<use href="#d" x="337.78" y="473.35"/>
<use href="#d" x="343.46" y="473.98"/>
<use href="#d" x="350.24" y="471.61"/>
<use href="#d" x="358.76" y="478.24"/>
<use href="#d" x="365.38" y="479.34"/>
<use href="#d" x="369.80" y="479.97"/>
<use href="#d" x="371.54" y="476.82"/>
<use href="#d" x="334.46" y="479.50"/>
<use href="#d" x="338.72" y="483.13"/>
<use href="#d" x="345.35" y="483.76"/>
<use href="#d" x="351.97" y="481.55"/>
<use href="#d" x="334.94" y="486.60"/>
<use href="#d" x="332.73" y="490.70"/>
<use href="#d" x="335.57" y="494.96"/>
<use href="#d" x="341.40" y="493.54"/>
<use href="#d" x="348.98" y="493.86"/>
<use href="#d" x="356.39" y="490.39"/>
<use href="#d" x="363.33" y="488.18"/>
<use href="#d" x="370.12" y="489.76"/>
<use href="#d" x="373.59" y="488.49"/>
<use href="#d" x="366.02" y="495.75"/>
<use href="#d" x="334.46" y="501.43"/>
<use href="#d" x="339.04" y="502.38"/>
<use href="#d" x="352.45" y="501.59"/>
<use href="#d" x="359.23" y="499.69"/>
<use href="#d" x="365.70" y="504.43"/>
<use href="#d" x="371.54" y="499.54"/>
<use href="#d" x="372.80" y="500.48"/>
<use href="#d" x="345.35" y="505.06"/>
<use href="#d" x="339.35" y="509.63"/>
<ellipse cx="352.61" cy="508.69" rx="1.65" ry="2.2" fill="#f8bcc5"/>
<use href="#d" x="359.70" y="508.69"/>
<use href="#d" x="366.96" y="509.48"/>
<use href="#d" x="369.17" y="509.48"/>
<use href="#d" x="345.66" y="513.42"/>
<use href="#d" x="351.66" y="514.37"/>
<use href="#d" x="357.97" y="514.68"/>
<use href="#d" x="362.39" y="515.31"/>
<use href="#d" x="343.46" y="516.42"/>
<use href="#d" x="349.45" y="517.84"/>
<use href="#d" x="354.97" y="517.84"/>
<text class="al" x="55.95" y="541.90" text-anchor="middle">Cryptwidth in µm</text>
<text class="al" style="font-size:7px" transform="translate(12.6 457.20) rotate(-90)" x="0" y="0" text-anchor="middle">Cryptheight in µm</text>
</svg></body></html>
